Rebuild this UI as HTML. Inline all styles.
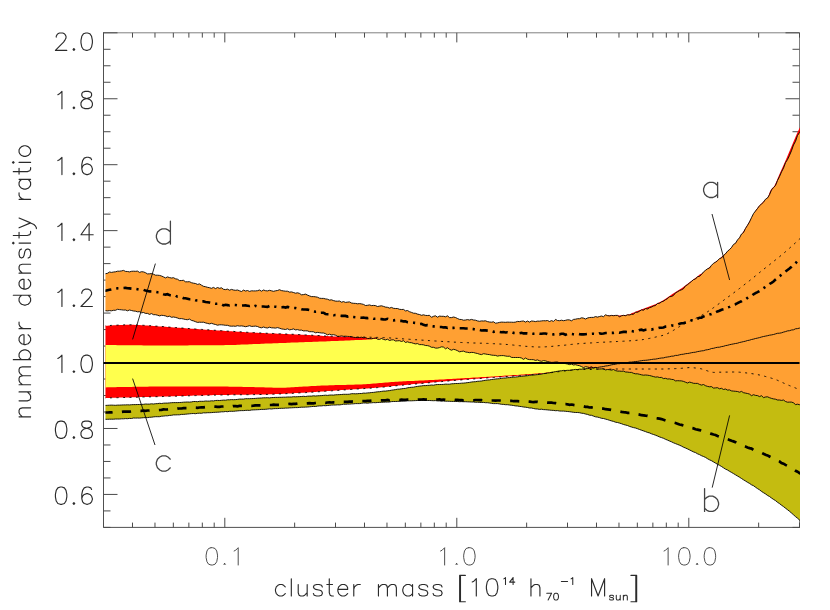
<!DOCTYPE html>
<html><head><meta charset="utf-8"><title>number density ratio vs cluster mass</title>
<style>html,body{margin:0;padding:0;background:#fff;font-family:"Liberation Sans",sans-serif}svg{display:block}.t{font-family:"Liberation Sans",sans-serif;fill:#000;fill-opacity:0}</style></head><body>
<svg width="830" height="610" viewBox="0 0 830 610">
<rect x="0" y="0" width="830" height="610" fill="#ffffff"/>
<defs><clipPath id="cp"><rect x="105.45" y="32.8" width="694.55" height="494.59999999999997"/></clipPath></defs>
<path stroke="#808080" stroke-width="1" fill="none" d="M103.5 32.8 H799.5 V527.4"/>
<path stroke="#505050" stroke-width="1" fill="none" d="M103.5 32.3 V527.4 H800.0"/>
<path stroke="#4a4a4a" stroke-width="1" fill="none" d="M103.50 527.4 V522.60 M103.50 32.8 V37.60 M132.49 527.4 V522.60 M132.49 32.8 V37.60 M154.97 527.4 V522.60 M154.97 32.8 V37.60 M173.34 527.4 V522.60 M173.34 32.8 V37.60 M188.87 527.4 V522.60 M188.87 32.8 V37.60 M202.32 527.4 V522.60 M202.32 32.8 V37.60 M214.19 527.4 V522.60 M214.19 32.8 V37.60 M224.81 527.4 V517.80 M224.81 32.8 V42.40 M294.65 527.4 V522.60 M294.65 32.8 V37.60 M335.50 527.4 V522.60 M335.50 32.8 V37.60 M364.49 527.4 V522.60 M364.49 32.8 V37.60 M386.97 527.4 V522.60 M386.97 32.8 V37.60 M405.34 527.4 V522.60 M405.34 32.8 V37.60 M420.87 527.4 V522.60 M420.87 32.8 V37.60 M434.32 527.4 V522.60 M434.32 32.8 V37.60 M446.19 527.4 V522.60 M446.19 32.8 V37.60 M456.81 527.4 V517.80 M456.81 32.8 V42.40 M526.65 527.4 V522.60 M526.65 32.8 V37.60 M567.50 527.4 V522.60 M567.50 32.8 V37.60 M596.49 527.4 V522.60 M596.49 32.8 V37.60 M618.97 527.4 V522.60 M618.97 32.8 V37.60 M637.34 527.4 V522.60 M637.34 32.8 V37.60 M652.87 527.4 V522.60 M652.87 32.8 V37.60 M666.32 527.4 V522.60 M666.32 32.8 V37.60 M678.19 527.4 V522.60 M678.19 32.8 V37.60 M688.81 527.4 V517.80 M688.81 32.8 V42.40 M758.65 527.4 V522.60 M758.65 32.8 V37.60 M799.50 527.4 V522.60 M799.50 32.8 V37.60 M103.5 527.40 H110.50 M799.5 527.40 H792.50 M103.5 510.91 H110.50 M799.5 510.91 H792.50 M103.5 494.43 H117.50 M799.5 494.43 H785.50 M103.5 477.94 H110.50 M799.5 477.94 H792.50 M103.5 461.45 H110.50 M799.5 461.45 H792.50 M103.5 444.97 H110.50 M799.5 444.97 H792.50 M103.5 428.48 H117.50 M799.5 428.48 H785.50 M103.5 411.99 H110.50 M799.5 411.99 H792.50 M103.5 395.51 H110.50 M799.5 395.51 H792.50 M103.5 379.02 H110.50 M799.5 379.02 H792.50 M103.5 362.53 H117.50 M799.5 362.53 H785.50 M103.5 346.05 H110.50 M799.5 346.05 H792.50 M103.5 329.56 H110.50 M799.5 329.56 H792.50 M103.5 313.07 H110.50 M799.5 313.07 H792.50 M103.5 296.59 H117.50 M799.5 296.59 H785.50 M103.5 280.10 H110.50 M799.5 280.10 H792.50 M103.5 263.61 H110.50 M799.5 263.61 H792.50 M103.5 247.13 H110.50 M799.5 247.13 H792.50 M103.5 230.64 H117.50 M799.5 230.64 H785.50 M103.5 214.15 H110.50 M799.5 214.15 H792.50 M103.5 197.67 H110.50 M799.5 197.67 H792.50 M103.5 181.18 H110.50 M799.5 181.18 H792.50 M103.5 164.69 H117.50 M799.5 164.69 H785.50 M103.5 148.21 H110.50 M799.5 148.21 H792.50 M103.5 131.72 H110.50 M799.5 131.72 H792.50 M103.5 115.23 H110.50 M799.5 115.23 H792.50 M103.5 98.75 H117.50 M799.5 98.75 H785.50 M103.5 82.26 H110.50 M799.5 82.26 H792.50 M103.5 65.77 H110.50 M799.5 65.77 H792.50 M103.5 49.29 H110.50 M799.5 49.29 H792.50 M103.5 32.80 H117.50 M799.5 32.80 H785.50"/>
<g clip-path="url(#cp)">
<polygon fill="#ff0000" points="103.5,326.0 105.5,325.8 107.5,325.7 109.5,325.5 111.5,325.4 113.5,325.3 115.5,325.2 117.5,325.1 119.5,325.0 121.5,324.9 123.5,324.9 125.5,324.8 127.5,324.8 129.5,324.8 131.5,324.8 133.5,324.8 135.5,324.9 137.5,325.0 139.5,325.1 141.5,325.2 143.5,325.3 145.5,325.4 147.5,325.5 149.5,325.7 151.5,325.8 153.5,326.0 155.5,326.1 157.5,326.2 159.5,326.4 161.5,326.5 163.5,326.6 165.5,326.8 167.5,326.9 169.5,327.1 171.5,327.2 173.5,327.4 175.5,327.5 177.5,327.7 179.5,327.8 181.5,328.0 183.5,328.1 185.5,328.3 187.5,328.4 189.5,328.6 191.5,328.7 193.5,328.8 195.5,329.0 197.5,329.1 199.5,329.3 201.5,329.4 203.5,329.5 205.5,329.7 207.5,329.8 209.5,329.9 211.5,330.1 213.5,330.2 215.5,330.3 217.5,330.4 219.5,330.6 221.5,330.7 223.5,330.8 225.5,330.9 227.5,331.1 229.5,331.2 231.5,331.3 233.5,331.4 235.5,331.6 237.5,331.7 239.5,331.8 241.5,331.9 243.5,332.0 245.5,332.2 247.5,332.3 249.5,332.4 251.5,332.5 253.5,332.6 255.5,332.7 257.5,332.8 259.5,332.9 261.5,333.0 263.5,333.1 265.5,333.2 267.5,333.3 269.5,333.4 271.5,333.4 273.5,333.5 275.5,333.6 277.5,333.7 279.5,333.8 281.5,333.8 283.5,333.9 285.5,334.0 287.5,334.1 289.5,334.2 291.5,334.2 293.5,334.3 295.5,334.4 297.5,334.5 299.5,334.6 301.5,334.7 303.5,334.8 305.5,334.9 307.5,335.0 309.5,335.1 311.5,335.2 313.5,335.3 315.5,335.4 317.5,335.5 319.5,335.6 321.5,335.8 323.5,335.9 325.5,336.0 327.5,336.1 329.5,336.2 331.5,336.3 333.5,336.4 335.5,336.4 337.5,336.5 339.5,336.6 341.5,336.6 343.5,336.7 345.5,336.8 347.5,336.8 349.5,336.8 351.5,336.9 353.5,336.9 355.5,337.0 357.5,337.0 359.5,337.0 361.5,337.1 363.5,337.1 365.5,337.1 367.5,337.2 369.5,337.2 371.5,337.3 373.5,337.3 375.5,337.4 377.5,337.4 379.5,337.5 381.5,337.6 383.5,337.6 385.5,337.7 387.5,337.8 389.5,337.9 391.5,338.1 393.5,338.2 395.5,338.3 397.5,338.4 399.5,338.6 401.5,338.7 403.5,338.9 405.5,339.0 407.5,339.1 409.5,339.3 411.5,339.4 413.5,339.6 415.5,339.7 417.5,339.8 419.5,340.0 421.5,340.1 423.5,340.2 425.5,340.3 427.5,340.5 429.5,340.6 431.5,340.7 433.5,340.9 435.5,341.0 437.5,341.1 439.5,341.2 441.5,341.4 443.5,341.5 445.5,341.6 447.5,341.7 449.5,341.8 451.5,342.0 453.5,342.1 455.5,342.2 457.5,342.3 459.5,342.4 461.5,342.5 463.5,342.6 465.5,342.6 467.5,342.7 469.5,342.8 471.5,342.9 473.5,343.0 475.5,343.0 477.5,343.1 479.5,343.2 481.5,343.2 483.5,343.3 485.5,343.4 487.5,343.4 489.5,343.5 491.5,343.6 493.5,343.7 495.5,343.8 497.5,343.9 499.5,344.0 501.5,344.1 503.5,344.2 505.5,344.4 507.5,344.5 509.5,344.7 511.5,344.9 513.5,345.1 515.5,345.3 517.5,345.5 519.5,345.7 521.5,345.9 523.5,346.1 525.5,346.3 527.5,346.4 529.5,346.6 531.5,346.7 533.5,346.8 535.5,346.9 537.5,347.0 539.5,347.0 541.5,347.0 543.5,346.9 545.5,346.8 547.5,346.7 549.5,346.5 551.5,346.4 553.5,346.2 555.5,346.0 557.5,345.8 559.5,345.6 561.5,345.5 563.5,345.3 565.5,345.1 567.5,344.9 569.5,344.6 571.5,344.4 573.5,344.2 575.5,344.0 577.5,343.8 579.5,343.6 581.5,343.5 583.5,343.4 585.5,343.2 587.5,343.1 589.5,343.0 591.5,342.9 593.5,342.8 595.5,342.6 597.5,342.5 599.5,342.4 604.0,315.7 606.0,315.7 608.0,315.6 610.0,315.6 612.0,315.6 614.0,315.6 616.0,315.5 618.0,315.5 620.0,315.4 622.0,315.3 624.0,315.1 626.0,314.9 628.0,314.6 630.0,314.3 632.0,313.0 634.0,312.4 636.0,311.6 638.0,310.8 640.0,310.0 642.0,309.3 644.0,308.5 646.0,307.8 648.0,307.1 650.0,306.3 652.0,305.5 654.0,304.7 656.0,303.9 658.0,303.0 660.0,302.0 662.0,300.9 664.0,299.7 666.0,298.4 668.0,297.1 670.0,295.7 672.0,294.3 674.0,293.0 676.0,291.7 678.0,290.4 680.0,289.2 682.0,287.9 684.0,286.5 686.0,285.1 688.0,283.6 690.0,282.1 692.0,280.5 694.0,279.0 696.0,277.4 698.0,275.9 700.0,274.3 702.0,273.4 704.0,271.8 706.0,270.1 708.0,268.4 710.0,266.7 712.0,265.0 714.0,263.3 716.0,261.6 718.0,260.0 720.0,258.3 722.0,256.6 724.0,254.8 726.0,252.9 728.0,250.9 730.0,248.9 732.0,246.8 734.0,244.7 736.0,242.4 738.0,239.8 740.0,236.8 742.0,233.7 744.0,230.5 746.0,227.3 748.0,223.9 750.0,220.5 752.0,217.1 754.0,213.5 756.0,210.1 758.0,207.2 760.0,204.9 762.0,203.0 764.0,201.1 766.0,199.2 768.0,197.0 770.0,191.4 772.0,188.2 774.0,186.4 776.0,182.5 778.0,177.4 780.0,173.0 782.0,168.6 784.0,164.1 786.0,159.5 788.0,154.7 790.0,149.9 792.0,145.2 794.0,140.5 796.0,135.8 798.0,131.2 800.8,125.5 800.8,400.0 600.0,372.0 543.5,373.6 541.5,373.8 539.5,374.0 537.5,374.2 535.5,374.4 533.5,374.6 531.5,374.8 529.5,374.9 527.5,375.1 525.5,375.2 523.5,375.4 521.5,375.5 519.5,375.6 517.5,375.8 515.5,375.9 513.5,376.1 511.5,376.2 509.5,376.3 507.5,376.5 505.5,376.6 503.5,376.7 501.5,376.9 499.5,377.0 497.5,377.2 495.5,377.3 493.5,377.5 491.5,377.6 489.5,377.8 487.5,377.9 485.5,378.1 483.5,378.2 481.5,378.4 479.5,378.5 477.5,378.7 475.5,378.8 473.5,379.0 471.5,379.1 469.5,379.3 467.5,379.4 465.5,379.6 463.5,379.7 461.5,379.9 459.5,380.0 457.5,380.2 455.5,380.4 453.5,380.5 451.5,380.7 449.5,380.9 447.5,381.1 445.5,381.2 443.5,381.4 441.5,381.6 439.5,381.8 437.5,382.0 435.5,382.1 433.5,382.3 431.5,382.5 429.5,382.7 427.5,382.9 425.5,383.0 423.5,383.2 421.5,383.4 419.5,383.6 417.5,383.8 415.5,384.0 413.5,384.1 411.5,384.3 409.5,384.5 407.5,384.7 405.5,384.9 403.5,385.1 401.5,385.3 399.5,385.4 397.5,385.6 395.5,385.9 393.5,386.1 391.5,386.3 389.5,386.5 387.5,386.7 385.5,386.9 383.5,387.1 381.5,387.3 379.5,387.4 377.5,387.6 375.5,387.8 373.5,387.9 371.5,388.1 369.5,388.2 367.5,388.4 365.5,388.5 363.5,388.6 361.5,388.8 359.5,388.9 357.5,389.0 355.5,389.2 353.5,389.3 351.5,389.4 349.5,389.6 347.5,389.7 345.5,389.8 343.5,390.0 341.5,390.1 339.5,390.2 337.5,390.4 335.5,390.5 333.5,390.7 331.5,390.8 329.5,390.9 327.5,391.1 325.5,391.2 323.5,391.4 321.5,391.5 319.5,391.7 317.5,391.8 315.5,391.9 313.5,392.1 311.5,392.2 309.5,392.3 307.5,392.5 305.5,392.6 303.5,392.7 301.5,392.8 299.5,392.9 297.5,393.0 295.5,393.1 293.5,393.2 291.5,393.4 289.5,393.5 287.5,393.6 285.5,393.7 283.5,393.8 281.5,393.9 279.5,393.9 277.5,394.0 275.5,394.1 273.5,394.2 271.5,394.3 269.5,394.3 267.5,394.4 265.5,394.4 263.5,394.4 261.5,394.5 259.5,394.5 257.5,394.5 255.5,394.6 253.5,394.6 251.5,394.6 249.5,394.7 247.5,394.7 245.5,394.7 243.5,394.7 241.5,394.7 239.5,394.8 237.5,394.8 235.5,394.8 233.5,394.8 231.5,394.8 229.5,394.9 227.5,394.9 225.5,394.9 223.5,394.9 221.5,395.0 219.5,395.0 217.5,395.0 215.5,395.1 213.5,395.1 211.5,395.2 209.5,395.2 207.5,395.3 205.5,395.3 203.5,395.4 201.5,395.4 199.5,395.5 197.5,395.5 195.5,395.6 193.5,395.6 191.5,395.7 189.5,395.8 187.5,395.8 185.5,395.9 183.5,395.9 181.5,396.0 179.5,396.0 177.5,396.1 175.5,396.2 173.5,396.2 171.5,396.3 169.5,396.3 167.5,396.4 165.5,396.5 163.5,396.5 161.5,396.6 159.5,396.6 157.5,396.7 155.5,396.7 153.5,396.8 151.5,396.8 149.5,396.9 147.5,396.9 145.5,397.0 143.5,397.0 141.5,397.1 139.5,397.1 137.5,397.2 135.5,397.2 133.5,397.3 131.5,397.3 129.5,397.4 127.5,397.4 125.5,397.5 123.5,397.5 121.5,397.6 119.5,397.6 117.5,397.7 115.5,397.7 113.5,397.8 111.5,397.8 109.5,397.9 107.5,397.9 105.5,398.0 103.5,398.0"/>
<polygon fill="#ffff4d" points="103.5,345.0 105.5,345.0 107.5,345.0 109.5,345.1 111.5,345.1 113.5,345.1 115.5,345.1 117.5,345.2 119.5,345.2 121.5,345.2 123.5,345.2 125.5,345.2 127.5,345.3 129.5,345.3 131.5,345.3 133.5,345.3 135.5,345.3 137.5,345.3 139.5,345.3 141.5,345.3 143.5,345.4 145.5,345.4 147.5,345.4 149.5,345.4 151.5,345.4 153.5,345.4 155.5,345.4 157.5,345.4 159.5,345.4 161.5,345.4 163.5,345.4 165.5,345.4 167.5,345.4 169.5,345.4 171.5,345.4 173.5,345.4 175.5,345.4 177.5,345.4 179.5,345.4 181.5,345.4 183.5,345.4 185.5,345.4 187.5,345.4 189.5,345.3 191.5,345.3 193.5,345.3 195.5,345.3 197.5,345.3 199.5,345.3 201.5,345.3 203.5,345.3 205.5,345.3 207.5,345.3 209.5,345.3 211.5,345.3 213.5,345.2 215.5,345.2 217.5,345.2 219.5,345.2 221.5,345.2 223.5,345.2 225.5,345.1 227.5,345.1 229.5,345.0 231.5,345.0 233.5,344.9 235.5,344.9 237.5,344.8 239.5,344.7 241.5,344.6 243.5,344.6 245.5,344.5 247.5,344.4 249.5,344.3 251.5,344.2 253.5,344.1 255.5,344.0 257.5,343.9 259.5,343.9 261.5,343.8 263.5,343.7 265.5,343.6 267.5,343.5 269.5,343.5 271.5,343.4 273.5,343.3 275.5,343.2 277.5,343.2 279.5,343.1 281.5,343.0 283.5,342.9 285.5,342.9 287.5,342.8 289.5,342.7 291.5,342.6 293.5,342.5 295.5,342.5 297.5,342.4 299.5,342.3 301.5,342.2 303.5,342.2 305.5,342.1 307.5,342.0 309.5,341.9 311.5,341.9 313.5,341.8 315.5,341.7 317.5,341.7 319.5,341.6 321.5,341.5 323.5,341.4 325.5,341.4 327.5,341.3 329.5,341.2 331.5,341.1 333.5,341.1 335.5,341.0 337.5,340.9 339.5,340.8 341.5,340.7 343.5,340.7 345.5,340.6 347.5,340.5 349.5,340.4 351.5,340.3 353.5,340.2 355.5,340.1 357.5,340.1 359.5,340.0 361.5,339.9 363.5,339.8 365.5,339.7 367.5,339.5 369.5,339.4 371.5,339.3 373.5,339.1 375.5,338.9 377.5,338.7 379.5,338.5 381.5,338.4 383.5,338.3 385.5,338.2 387.5,338.1 389.5,338.1 391.5,338.1 393.5,338.0 395.5,338.0 397.5,338.0 399.5,338.0 401.5,338.0 403.5,338.2 405.5,338.4 407.5,338.7 409.5,339.0 411.5,339.4 413.5,339.8 415.5,340.2 417.5,340.6 419.5,340.9 421.5,341.2 423.5,341.6 425.5,341.9 427.5,342.3 429.5,342.6 431.5,343.0 433.5,343.4 435.5,343.7 437.5,344.1 439.5,344.5 441.5,344.9 443.5,345.2 445.5,345.6 447.5,345.9 449.5,346.3 451.5,346.6 453.5,347.0 455.5,347.3 457.5,347.6 459.5,347.9 461.5,348.2 463.5,348.5 465.5,348.8 467.5,349.0 469.5,349.3 471.5,349.6 473.5,349.8 475.5,350.1 477.5,350.3 479.5,350.5 481.5,350.8 483.5,351.0 485.5,351.3 487.5,351.5 489.5,351.7 491.5,352.0 493.5,352.2 495.5,352.4 497.5,352.7 499.5,352.9 501.5,353.2 503.5,353.4 505.5,353.7 507.5,353.9 509.5,354.2 511.5,354.5 513.5,354.7 515.5,355.0 517.5,355.2 519.5,355.5 521.5,355.7 523.5,356.0 525.5,356.2 527.5,356.5 529.5,356.7 531.5,357.0 533.5,357.2 535.5,357.5 537.5,357.7 539.5,357.9 541.5,358.2 543.5,358.4 545.5,358.6 547.5,358.8 549.5,359.0 551.5,359.1 553.5,359.3 555.5,359.5 557.5,359.7 559.5,359.9 561.5,360.1 563.5,360.3 565.5,360.5 567.5,360.8 569.5,361.1 571.5,361.4 573.5,361.7 575.5,362.1 577.5,362.6 579.5,363.3 581.5,364.2 583.5,365.1 585.5,366.1 587.5,367.2 589.5,368.2 590.0,368.5 588.0,368.5 587.5,368.6 585.5,368.8 583.5,369.0 581.5,369.2 579.5,369.4 577.5,369.7 575.5,369.9 573.5,370.1 571.5,370.3 569.5,370.5 567.5,370.7 565.5,370.9 563.5,371.1 561.5,371.3 559.5,371.5 557.5,371.7 555.5,371.9 553.5,372.0 551.5,372.2 549.5,372.4 547.5,372.6 545.5,372.7 543.5,372.9 541.5,373.1 539.5,373.2 537.5,373.4 535.5,373.6 533.5,373.7 531.5,373.9 529.5,374.0 527.5,374.2 525.5,374.3 523.5,374.4 521.5,374.6 519.5,374.7 517.5,374.9 515.5,375.0 513.5,375.1 511.5,375.3 509.5,375.4 507.5,375.5 505.5,375.6 503.5,375.8 501.5,375.9 499.5,376.0 497.5,376.2 495.5,376.3 493.5,376.4 491.5,376.5 489.5,376.7 487.5,376.8 485.5,376.9 483.5,377.0 481.5,377.1 479.5,377.3 477.5,377.4 475.5,377.5 473.5,377.6 471.5,377.7 469.5,377.9 467.5,378.0 465.5,378.1 463.5,378.2 461.5,378.3 459.5,378.4 457.5,378.5 455.5,378.7 453.5,378.8 451.5,378.9 449.5,379.0 447.5,379.1 445.5,379.2 443.5,379.4 441.5,379.5 439.5,379.6 437.5,379.7 435.5,379.8 433.5,379.9 431.5,380.0 429.5,380.1 427.5,380.2 425.5,380.3 423.5,380.4 421.5,380.5 419.5,380.6 417.5,380.7 415.5,380.8 413.5,380.9 411.5,380.9 409.5,381.0 407.5,381.1 405.5,381.2 403.5,381.3 401.5,381.4 399.5,381.5 397.5,381.7 395.5,381.8 393.5,381.9 391.5,382.1 389.5,382.2 387.5,382.4 385.5,382.6 383.5,382.7 381.5,382.9 379.5,383.0 377.5,383.2 375.5,383.4 373.5,383.5 371.5,383.7 369.5,383.9 367.5,384.0 365.5,384.2 363.5,384.3 361.5,384.4 359.5,384.5 357.5,384.6 355.5,384.6 353.5,384.7 351.5,384.7 349.5,384.8 347.5,384.8 345.5,384.9 343.5,384.9 341.5,385.0 339.5,385.0 337.5,385.1 335.5,385.1 333.5,385.2 331.5,385.3 329.5,385.3 327.5,385.4 325.5,385.5 323.5,385.6 321.5,385.6 319.5,385.7 317.5,385.8 315.5,385.9 313.5,386.0 311.5,386.1 309.5,386.3 307.5,386.4 305.5,386.5 303.5,386.6 301.5,386.7 299.5,386.8 297.5,386.9 295.5,387.1 293.5,387.2 291.5,387.3 289.5,387.5 287.5,387.6 285.5,387.7 283.5,387.7 281.5,387.8 279.5,387.8 277.5,387.8 275.5,387.7 273.5,387.7 271.5,387.6 269.5,387.5 267.5,387.4 265.5,387.4 263.5,387.3 261.5,387.3 259.5,387.2 257.5,387.2 255.5,387.2 253.5,387.1 251.5,387.1 249.5,387.0 247.5,387.0 245.5,386.9 243.5,386.9 241.5,386.8 239.5,386.8 237.5,386.8 235.5,386.7 233.5,386.7 231.5,386.7 229.5,386.7 227.5,386.6 225.5,386.6 223.5,386.6 221.5,386.6 219.5,386.6 217.5,386.6 215.5,386.6 213.5,386.6 211.5,386.6 209.5,386.6 207.5,386.6 205.5,386.6 203.5,386.6 201.5,386.6 199.5,386.6 197.5,386.6 195.5,386.6 193.5,386.6 191.5,386.6 189.5,386.6 187.5,386.6 185.5,386.6 183.5,386.6 181.5,386.6 179.5,386.6 177.5,386.6 175.5,386.6 173.5,386.6 171.5,386.6 169.5,386.6 167.5,386.6 165.5,386.6 163.5,386.6 161.5,386.6 159.5,386.6 157.5,386.6 155.5,386.6 153.5,386.6 151.5,386.6 149.5,386.6 147.5,386.7 145.5,386.7 143.5,386.7 141.5,386.7 139.5,386.7 137.5,386.8 135.5,386.8 133.5,386.8 131.5,386.9 129.5,386.9 127.5,386.9 125.5,387.0 123.5,387.0 121.5,387.0 119.5,387.1 117.5,387.1 115.5,387.2 113.5,387.2 111.5,387.2 109.5,387.3 107.5,387.3 105.5,387.4 103.5,387.4"/>
<polygon fill="#c4bc10" points="103.5,405.3 105.5,405.4 107.5,405.3 109.5,405.2 111.5,405.1 113.5,405.2 115.5,405.3 117.5,405.1 119.5,405.1 121.5,405.0 123.5,404.9 125.5,404.9 127.5,404.8 129.5,404.9 131.5,404.7 133.5,404.6 135.5,404.6 137.5,404.5 139.5,404.5 141.5,404.4 143.5,404.3 145.5,404.0 147.5,404.1 149.5,404.1 151.5,403.8 153.5,404.0 155.5,403.7 157.5,403.6 159.5,403.3 161.5,403.5 163.5,403.2 165.5,403.1 167.5,403.1 169.5,402.9 171.5,402.7 173.5,402.6 175.5,402.6 177.5,402.6 179.5,402.5 181.5,402.4 183.5,402.2 185.5,402.1 187.5,402.0 189.5,402.1 191.5,401.9 193.5,401.5 195.5,401.5 197.5,401.7 199.5,401.3 201.5,401.3 203.5,401.3 205.5,401.0 207.5,401.1 209.5,401.1 211.5,400.8 213.5,400.9 215.5,400.5 217.5,400.4 219.5,400.5 221.5,400.3 223.5,400.1 225.5,400.2 227.5,399.8 229.5,399.8 231.5,399.6 233.5,399.7 235.5,399.6 237.5,399.4 239.5,399.1 241.5,399.1 243.5,399.1 245.5,398.7 247.5,398.7 249.5,398.7 251.5,398.6 253.5,398.5 255.5,398.4 257.5,398.2 259.5,398.1 261.5,398.0 263.5,397.8 265.5,397.8 267.5,397.7 269.5,397.9 271.5,397.6 273.5,397.5 275.5,397.4 277.5,397.4 279.5,397.3 281.5,397.3 283.5,397.2 285.5,397.2 287.5,397.0 289.5,397.0 291.5,397.0 293.5,396.7 295.5,396.8 297.5,396.7 299.5,396.6 301.5,396.5 303.5,396.3 305.5,396.5 307.5,396.2 309.5,396.1 311.5,396.1 313.5,395.8 315.5,396.0 317.5,395.8 319.5,395.7 321.5,395.6 323.5,395.4 325.5,395.2 327.5,395.4 329.5,395.1 331.5,395.0 333.5,395.1 335.5,394.8 337.5,394.7 339.5,394.6 341.5,394.5 343.5,394.3 345.5,394.3 347.5,394.3 349.5,394.2 351.5,393.7 353.5,393.7 355.5,393.8 357.5,393.7 359.5,393.5 361.5,393.5 363.5,393.1 365.5,393.2 367.5,392.9 369.5,392.8 371.5,392.5 373.5,392.4 375.5,392.1 377.5,391.8 379.5,391.7 381.5,391.4 383.5,391.1 385.5,391.1 387.5,390.8 389.5,390.6 391.5,390.2 393.5,389.9 395.5,389.6 397.5,389.2 399.5,389.1 401.5,388.8 403.5,388.5 405.5,388.4 407.5,387.8 409.5,387.5 411.5,387.3 413.5,387.2 415.5,386.7 417.5,386.4 419.5,386.1 421.5,385.9 423.5,385.6 425.5,385.6 427.5,385.4 429.5,385.3 431.5,385.0 433.5,385.2 435.5,384.7 437.5,384.5 439.5,384.5 441.5,384.5 443.5,384.4 445.5,384.1 447.5,384.2 449.5,384.2 451.5,383.8 453.5,383.7 455.5,383.5 457.5,383.5 459.5,383.4 461.5,383.2 463.5,383.1 465.5,382.9 467.5,382.6 469.5,382.4 471.5,382.0 473.5,381.8 475.5,381.7 477.5,381.3 479.5,381.2 481.5,381.0 483.5,380.6 485.5,380.3 487.5,380.0 489.5,379.9 491.5,379.5 493.5,379.3 495.5,379.0 497.5,378.8 499.5,378.7 501.5,378.3 503.5,378.0 505.5,378.0 507.5,377.7 509.5,377.6 511.5,377.3 513.5,377.2 515.5,377.0 517.5,376.8 519.5,376.5 521.5,376.3 523.5,376.1 525.5,375.9 527.5,375.7 529.5,375.4 531.5,375.0 533.5,375.0 535.5,374.8 537.5,374.6 539.5,374.4 541.5,374.1 543.5,373.6 545.5,373.5 547.5,373.0 549.5,372.8 551.5,372.3 553.5,372.0 555.5,371.6 557.5,371.3 559.5,370.9 561.5,370.8 563.5,370.4 565.5,370.5 567.5,370.3 569.5,370.3 571.5,370.0 573.5,369.7 575.5,369.4 577.5,369.6 579.5,369.1 581.5,369.2 583.5,368.7 585.5,368.7 587.5,368.6 589.5,368.4 591.5,368.1 593.5,367.8 595.5,367.5 597.5,367.5 599.5,367.1 601.5,366.8 603.5,366.5 605.5,366.0 607.5,365.8 609.5,365.4 611.5,364.8 613.5,364.5 615.5,364.2 617.5,363.7 619.5,363.7 621.5,363.3 623.5,362.9 625.5,362.8 627.5,362.6 629.5,362.1 631.5,362.1 633.5,361.8 635.5,361.5 637.5,361.4 639.5,361.0 641.5,360.7 643.5,360.4 645.5,360.3 647.5,360.1 649.5,359.8 651.5,359.5 653.5,359.2 655.5,359.1 657.5,358.7 659.5,358.3 661.5,358.0 663.5,357.9 665.5,357.3 667.5,357.0 669.5,356.7 671.5,356.2 673.5,356.1 675.5,355.4 677.5,355.4 679.5,354.8 681.5,354.4 683.5,354.2 685.5,353.7 687.5,353.5 689.5,353.2 691.5,352.7 693.5,352.4 695.5,352.2 697.5,351.6 699.5,351.3 701.5,350.9 703.5,350.7 705.5,350.0 707.5,349.7 709.5,349.3 711.5,348.5 713.5,348.3 715.5,347.7 717.5,347.3 719.5,347.2 721.5,346.6 723.5,346.3 725.5,345.6 727.5,345.3 729.5,344.7 731.5,344.3 733.5,343.9 735.5,343.5 737.5,343.2 739.5,342.5 741.5,342.1 743.5,341.6 745.5,341.2 747.5,340.5 749.5,340.2 751.5,339.5 753.5,339.1 755.5,338.5 757.5,338.1 759.5,337.6 761.5,337.0 763.5,336.5 765.5,336.1 767.5,335.7 769.5,335.2 771.5,334.9 773.5,334.5 775.5,333.9 777.5,333.3 779.5,333.2 781.5,332.8 783.5,332.1 785.5,331.6 787.5,330.9 789.5,330.7 791.5,330.0 793.5,329.8 795.5,328.8 797.5,328.6 799.5,328.1 800.8,327.8 800.8,521.2 799.5,520.0 797.5,518.2 795.5,516.6 793.5,514.8 791.5,513.0 789.5,511.3 787.5,509.7 785.5,508.2 783.5,506.6 781.5,505.2 779.5,503.6 777.5,502.3 775.5,500.6 773.5,499.4 771.5,498.0 769.5,496.5 767.5,495.4 765.5,493.9 763.5,492.7 761.5,491.4 759.5,489.8 757.5,488.6 755.5,487.2 753.5,485.7 751.5,484.8 749.5,483.4 747.5,482.3 745.5,481.0 743.5,479.8 741.5,478.5 739.5,477.2 737.5,476.0 735.5,474.8 733.5,473.6 731.5,472.4 729.5,471.3 727.5,470.0 725.5,469.1 723.5,467.8 721.5,466.5 719.5,465.3 717.5,464.3 715.5,463.1 713.5,461.9 711.5,460.7 709.5,459.8 707.5,458.7 705.5,457.4 703.5,456.5 701.5,455.7 699.5,454.6 697.5,453.8 695.5,452.6 693.5,451.9 691.5,450.9 689.5,449.9 687.5,448.9 685.5,448.0 683.5,447.2 681.5,446.1 679.5,445.2 677.5,444.4 675.5,443.6 673.5,442.8 671.5,441.8 669.5,441.0 667.5,440.1 665.5,439.3 663.5,438.3 661.5,437.6 659.5,436.9 657.5,436.0 655.5,435.2 653.5,434.5 651.5,433.8 649.5,432.9 647.5,432.4 645.5,431.6 643.5,430.9 641.5,430.2 639.5,429.5 637.5,428.7 635.5,428.0 633.5,427.6 631.5,427.0 629.5,426.4 627.5,425.5 625.5,425.0 623.5,424.5 621.5,423.7 619.5,423.1 617.5,422.5 615.5,422.2 613.5,421.4 611.5,420.9 609.5,420.3 607.5,419.6 605.5,419.1 603.5,418.5 601.5,418.3 599.5,417.6 597.5,417.1 595.5,416.8 593.5,416.1 591.5,415.3 589.5,415.2 587.5,414.4 585.5,414.0 583.5,413.4 581.5,413.2 579.5,412.7 577.5,412.5 575.5,412.5 573.5,412.3 571.5,412.0 569.5,411.7 567.5,411.5 565.5,411.3 563.5,411.1 561.5,411.1 559.5,411.0 557.5,410.6 555.5,410.7 553.5,410.4 551.5,410.3 549.5,410.1 547.5,409.9 545.5,409.7 543.5,409.6 541.5,409.2 539.5,409.4 537.5,409.0 535.5,408.9 533.5,408.5 531.5,408.0 529.5,408.0 527.5,407.5 525.5,407.2 523.5,407.0 521.5,406.6 519.5,406.4 517.5,406.0 515.5,405.9 513.5,405.5 511.5,405.2 509.5,405.0 507.5,404.7 505.5,404.7 503.5,404.4 501.5,404.3 499.5,403.9 497.5,403.6 495.5,403.6 493.5,403.6 491.5,403.3 489.5,403.0 487.5,402.7 485.5,402.7 483.5,402.4 481.5,402.5 479.5,402.4 477.5,402.2 475.5,402.3 473.5,402.0 471.5,402.0 469.5,401.9 467.5,401.8 465.5,401.7 463.5,401.7 461.5,401.6 459.5,401.7 457.5,401.5 455.5,401.5 453.5,401.4 451.5,401.4 449.5,401.3 447.5,401.2 445.5,401.2 443.5,401.0 441.5,401.1 439.5,400.9 437.5,400.9 435.5,400.6 433.5,400.7 431.5,400.6 429.5,400.5 427.5,400.5 425.5,400.4 423.5,400.5 421.5,400.4 419.5,400.4 417.5,400.5 415.5,400.6 413.5,400.7 411.5,400.8 409.5,400.8 407.5,400.8 405.5,400.9 403.5,401.0 401.5,401.1 399.5,401.2 397.5,401.4 395.5,401.5 393.5,401.5 391.5,401.6 389.5,402.0 387.5,402.1 385.5,402.1 383.5,402.2 381.5,402.3 379.5,402.4 377.5,402.5 375.5,402.7 373.5,402.6 371.5,402.8 369.5,402.9 367.5,403.2 365.5,403.0 363.5,403.0 361.5,403.3 359.5,403.6 357.5,403.6 355.5,403.6 353.5,403.8 351.5,403.9 349.5,404.1 347.5,404.1 345.5,404.3 343.5,404.2 341.5,404.6 339.5,404.9 337.5,404.8 335.5,405.0 333.5,405.0 331.5,405.1 329.5,405.3 327.5,405.5 325.5,405.7 323.5,405.6 321.5,405.9 319.5,405.9 317.5,406.1 315.5,406.5 313.5,406.4 311.5,406.6 309.5,406.8 307.5,407.0 305.5,407.1 303.5,407.2 301.5,407.2 299.5,407.4 297.5,407.6 295.5,407.6 293.5,407.7 291.5,407.8 289.5,407.9 287.5,408.1 285.5,408.1 283.5,408.3 281.5,408.3 279.5,408.4 277.5,408.6 275.5,408.6 273.5,408.7 271.5,409.0 269.5,408.8 267.5,409.1 265.5,409.3 263.5,409.4 261.5,409.4 259.5,409.6 257.5,409.7 255.5,409.8 253.5,409.9 251.5,410.0 249.5,410.4 247.5,410.3 245.5,410.4 243.5,410.6 241.5,410.6 239.5,410.7 237.5,410.9 235.5,411.1 233.5,411.3 231.5,411.3 229.5,411.3 227.5,411.7 225.5,411.5 223.5,411.8 221.5,411.8 219.5,412.1 217.5,412.2 215.5,412.3 213.5,412.4 211.5,412.6 209.5,412.7 207.5,412.7 205.5,412.9 203.5,412.8 201.5,413.3 199.5,413.2 197.5,413.3 195.5,413.7 193.5,413.5 191.5,413.6 189.5,413.8 187.5,414.0 185.5,414.2 183.5,414.4 181.5,414.4 179.5,414.8 177.5,414.8 175.5,414.9 173.5,414.9 171.5,415.3 169.5,415.4 167.5,415.8 165.5,415.8 163.5,416.1 161.5,416.2 159.5,416.7 157.5,416.7 155.5,416.7 153.5,416.9 151.5,417.2 149.5,417.3 147.5,417.6 145.5,417.6 143.5,417.7 141.5,417.9 139.5,418.1 137.5,418.0 135.5,418.1 133.5,418.0 131.5,418.5 129.5,418.4 127.5,418.7 125.5,418.6 123.5,418.8 121.5,418.8 119.5,419.0 117.5,419.0 115.5,419.0 113.5,419.2 111.5,419.2 109.5,419.2 107.5,419.3 105.5,419.3 103.5,419.4"/>
<polygon fill="#ffa033" points="103.5,274.6 105.5,273.7 107.5,273.3 109.5,272.0 111.5,272.4 113.5,272.0 115.5,271.8 117.5,271.2 119.5,271.2 121.5,270.9 123.5,270.4 125.5,271.4 127.5,271.5 129.5,271.9 131.5,271.3 133.5,271.2 135.5,271.3 137.5,271.1 139.5,272.4 141.5,271.7 143.5,271.9 145.5,272.7 147.5,273.9 149.5,273.8 151.5,273.6 153.5,274.2 155.5,275.2 157.5,275.2 159.5,275.4 161.5,276.0 163.5,276.9 165.5,277.9 167.5,276.9 169.5,277.6 171.5,278.0 173.5,277.7 175.5,278.8 177.5,279.2 179.5,280.6 181.5,280.5 183.5,280.3 185.5,281.8 187.5,281.8 189.5,281.7 191.5,282.7 193.5,283.2 195.5,283.5 197.5,284.4 199.5,283.9 201.5,285.2 203.5,286.3 205.5,286.7 207.5,287.3 209.5,287.7 211.5,288.3 213.5,287.4 215.5,288.6 217.5,287.5 219.5,288.3 221.5,287.8 223.5,289.3 225.5,289.6 227.5,289.1 229.5,290.2 231.5,289.4 233.5,290.0 235.5,290.3 237.5,290.0 239.5,290.8 241.5,291.5 243.5,290.1 245.5,291.0 247.5,290.5 249.5,291.4 251.5,290.8 253.5,290.9 255.5,290.9 257.5,290.7 259.5,290.0 261.5,291.2 263.5,290.0 265.5,290.7 267.5,290.9 269.5,290.3 271.5,290.8 273.5,291.3 275.5,290.8 277.5,290.5 279.5,289.7 281.5,290.6 283.5,290.9 285.5,291.2 287.5,291.2 289.5,292.1 291.5,291.9 293.5,292.5 295.5,293.2 297.5,292.8 299.5,293.4 301.5,294.8 303.5,294.6 305.5,294.1 307.5,295.1 309.5,295.9 311.5,296.6 313.5,296.6 315.5,296.8 317.5,297.2 319.5,298.2 321.5,298.4 323.5,298.4 325.5,298.9 327.5,299.2 329.5,300.1 331.5,299.8 333.5,300.6 335.5,301.1 337.5,301.2 339.5,301.0 341.5,302.2 343.5,301.6 345.5,302.4 347.5,302.1 349.5,301.9 351.5,303.0 353.5,303.3 355.5,303.4 357.5,303.8 359.5,303.6 361.5,303.9 363.5,304.4 365.5,305.5 367.5,305.3 369.5,304.9 371.5,305.6 373.5,305.4 375.5,305.6 377.5,306.5 379.5,306.1 381.5,305.8 383.5,306.4 385.5,307.1 387.5,307.3 389.5,308.1 391.5,307.4 393.5,308.3 395.5,308.5 397.5,308.5 399.5,309.3 401.5,309.5 403.5,309.4 405.5,310.9 407.5,310.5 409.5,311.7 411.5,312.4 413.5,313.2 415.5,313.3 417.5,314.1 419.5,314.5 421.5,315.3 423.5,314.8 425.5,315.4 427.5,315.5 429.5,315.3 431.5,317.3 433.5,316.3 435.5,315.8 437.5,317.2 439.5,316.1 441.5,316.3 443.5,316.3 445.5,316.8 447.5,315.8 449.5,317.6 451.5,317.6 453.5,317.0 455.5,317.5 457.5,318.5 459.5,319.4 461.5,319.5 463.5,320.2 465.5,320.0 467.5,319.6 469.5,320.0 471.5,319.4 473.5,320.0 475.5,320.2 477.5,320.9 479.5,321.3 481.5,320.9 483.5,321.0 485.5,320.8 487.5,321.6 489.5,322.0 491.5,322.2 493.5,321.8 495.5,323.2 497.5,322.9 499.5,322.4 501.5,322.1 503.5,322.2 505.5,322.3 507.5,322.1 509.5,322.2 511.5,322.2 513.5,322.3 515.5,322.1 517.5,321.4 519.5,321.6 521.5,321.2 523.5,321.0 525.5,322.1 527.5,321.0 529.5,322.1 531.5,321.0 533.5,321.2 535.5,321.6 537.5,321.1 539.5,321.2 541.5,320.9 543.5,320.7 545.5,320.8 547.5,320.5 549.5,321.5 551.5,320.6 553.5,321.4 555.5,319.4 557.5,320.5 559.5,320.7 561.5,320.2 563.5,320.7 565.5,320.3 567.5,319.8 569.5,319.9 571.5,320.8 573.5,319.4 575.5,319.2 577.5,318.7 579.5,318.7 581.5,317.8 583.5,318.1 585.5,319.0 587.5,318.0 589.5,317.5 591.5,317.4 593.5,317.4 595.5,316.6 597.5,317.1 599.5,316.5 601.5,316.0 603.5,316.7 605.5,314.8 607.5,315.6 609.5,315.9 611.5,315.4 613.5,315.7 615.5,315.4 617.5,315.4 619.5,316.8 621.5,315.8 623.5,315.3 625.5,315.7 627.5,314.8 629.5,315.0 631.5,314.3 633.5,314.3 635.5,312.2 637.5,312.3 639.5,311.2 641.5,309.9 643.5,310.2 645.5,308.6 647.5,309.0 649.5,307.7 651.5,307.1 653.5,306.0 655.5,305.5 657.5,303.4 659.5,303.3 661.5,301.9 663.5,301.2 665.5,299.7 667.5,298.7 669.5,296.7 671.5,296.5 673.5,295.4 675.5,292.9 677.5,291.8 679.5,290.6 681.5,289.8 683.5,288.7 685.5,285.9 687.5,284.7 689.5,283.0 691.5,281.4 693.5,279.6 695.5,279.0 697.5,276.7 699.5,276.3 701.5,274.5 703.5,271.9 705.5,270.3 707.5,268.8 709.5,268.0 711.5,265.3 713.5,263.3 715.5,262.2 717.5,260.7 719.5,258.6 721.5,257.9 723.5,255.6 725.5,253.8 727.5,251.2 729.5,249.6 731.5,247.5 733.5,244.4 735.5,243.3 737.5,239.9 739.5,237.8 741.5,234.0 743.5,232.5 745.5,228.4 747.5,225.3 749.5,221.9 751.5,217.6 753.5,213.6 755.5,211.0 757.5,208.5 759.5,205.7 761.5,204.0 763.5,202.2 765.5,199.2 767.5,198.0 769.5,194.7 771.5,189.9 773.5,187.6 775.5,185.5 777.5,180.5 779.5,176.6 781.5,171.9 783.5,168.1 785.5,162.7 787.5,159.6 789.5,155.4 791.5,150.7 793.5,145.0 795.5,141.4 797.5,135.5 799.5,132.6 800.8,130.7 800.8,405.1 799.5,404.7 797.5,404.2 795.5,404.6 793.5,402.8 791.5,402.1 789.5,402.1 787.5,402.2 785.5,401.5 783.5,400.0 781.5,400.4 779.5,400.0 777.5,400.0 775.5,399.2 773.5,398.9 771.5,398.4 769.5,397.7 767.5,396.8 765.5,397.0 763.5,397.6 761.5,395.7 759.5,396.6 757.5,395.6 755.5,395.4 753.5,394.7 751.5,395.7 749.5,394.1 747.5,393.5 745.5,393.1 743.5,392.7 741.5,391.4 739.5,392.2 737.5,391.5 735.5,391.3 733.5,391.1 731.5,390.9 729.5,389.9 727.5,390.1 725.5,389.0 723.5,389.5 721.5,388.3 719.5,388.8 717.5,387.7 715.5,387.9 713.5,388.1 711.5,386.6 709.5,386.8 707.5,386.4 705.5,385.7 703.5,384.5 701.5,385.1 699.5,384.4 697.5,383.4 695.5,383.4 693.5,383.3 691.5,382.6 689.5,382.1 687.5,383.0 685.5,382.2 683.5,381.4 681.5,380.9 679.5,380.8 677.5,380.7 675.5,380.9 673.5,379.6 671.5,379.4 669.5,378.9 667.5,379.0 665.5,378.3 663.5,378.6 661.5,377.4 659.5,377.5 657.5,376.9 655.5,377.1 653.5,376.6 651.5,376.0 649.5,375.5 647.5,375.2 645.5,375.0 643.5,375.2 641.5,374.8 639.5,374.3 637.5,373.8 635.5,373.8 633.5,373.3 631.5,372.4 629.5,372.4 627.5,372.1 625.5,372.0 623.5,371.1 621.5,371.3 619.5,371.1 617.5,371.1 615.5,370.6 613.5,369.5 611.5,370.1 609.5,369.7 607.5,369.5 605.5,369.9 603.5,368.6 601.5,368.9 599.5,369.0 597.5,368.8 595.5,367.4 593.5,368.0 591.5,366.8 589.5,367.5 587.5,367.0 585.5,366.7 583.5,367.6 581.5,366.6 579.5,365.7 577.5,365.3 575.5,364.7 573.5,365.0 571.5,364.1 569.5,364.6 567.5,364.0 565.5,363.6 563.5,362.8 561.5,363.2 559.5,362.8 557.5,362.0 555.5,362.0 553.5,362.3 551.5,362.4 549.5,362.0 547.5,361.5 545.5,360.9 543.5,360.6 541.5,361.3 539.5,360.8 537.5,359.9 535.5,360.4 533.5,359.7 531.5,359.6 529.5,359.6 527.5,359.2 525.5,358.0 523.5,359.4 521.5,358.0 519.5,357.5 517.5,357.5 515.5,357.5 513.5,357.5 511.5,357.4 509.5,356.2 507.5,356.3 505.5,356.0 503.5,355.6 501.5,355.6 499.5,355.7 497.5,356.1 495.5,355.4 493.5,355.3 491.5,355.1 489.5,354.6 487.5,354.4 485.5,354.0 483.5,353.7 481.5,354.6 479.5,354.2 477.5,353.5 475.5,353.1 473.5,352.5 471.5,352.4 469.5,352.7 467.5,352.3 465.5,352.0 463.5,351.1 461.5,351.4 459.5,351.8 457.5,350.7 455.5,349.8 453.5,349.3 451.5,350.2 449.5,349.3 447.5,347.7 445.5,348.8 443.5,347.1 441.5,346.8 439.5,347.6 437.5,348.1 435.5,348.1 433.5,347.3 431.5,347.3 429.5,346.2 427.5,345.6 425.5,345.5 423.5,344.8 421.5,344.6 419.5,344.6 417.5,343.6 415.5,343.9 413.5,343.4 411.5,342.7 409.5,342.6 407.5,341.8 405.5,342.5 403.5,340.7 401.5,341.5 399.5,340.7 397.5,340.8 395.5,341.0 393.5,339.8 391.5,339.9 389.5,340.5 387.5,339.2 385.5,339.9 383.5,339.4 381.5,338.5 379.5,339.4 377.5,339.2 375.5,337.9 373.5,338.4 371.5,338.7 369.5,338.5 367.5,338.5 365.5,337.6 363.5,337.8 361.5,337.2 359.5,337.5 357.5,337.6 355.5,337.5 353.5,337.3 351.5,336.6 349.5,336.5 347.5,336.4 345.5,336.2 343.5,336.3 341.5,335.9 339.5,336.3 337.5,336.3 335.5,335.2 333.5,334.7 331.5,334.9 329.5,334.2 327.5,334.9 325.5,333.7 323.5,333.0 321.5,333.0 319.5,332.7 317.5,332.4 315.5,332.8 313.5,331.8 311.5,331.7 309.5,331.7 307.5,330.9 305.5,330.8 303.5,330.9 301.5,330.1 299.5,330.2 297.5,329.6 295.5,329.9 293.5,328.9 291.5,329.5 289.5,329.8 287.5,328.8 285.5,329.5 283.5,329.2 281.5,328.9 279.5,328.2 277.5,327.6 275.5,328.1 273.5,327.9 271.5,327.8 269.5,327.2 267.5,328.0 265.5,327.7 263.5,327.0 261.5,327.8 259.5,327.4 257.5,326.5 255.5,326.1 253.5,326.3 251.5,326.4 249.5,325.7 247.5,326.3 245.5,326.7 243.5,326.2 241.5,325.9 239.5,326.1 237.5,325.7 235.5,326.3 233.5,326.1 231.5,326.2 229.5,326.0 227.5,325.3 225.5,325.3 223.5,325.0 221.5,324.8 219.5,324.8 217.5,325.2 215.5,324.5 213.5,324.0 211.5,323.3 209.5,323.9 207.5,323.4 205.5,322.9 203.5,322.2 201.5,322.3 199.5,322.2 197.5,322.4 195.5,321.7 193.5,320.9 191.5,320.4 189.5,319.1 187.5,319.7 185.5,319.5 183.5,319.0 181.5,318.6 179.5,318.7 177.5,318.0 175.5,317.4 173.5,317.0 171.5,317.3 169.5,316.2 167.5,316.7 165.5,315.9 163.5,315.5 161.5,315.3 159.5,315.9 157.5,315.2 155.5,314.7 153.5,314.7 151.5,313.6 149.5,314.4 147.5,313.4 145.5,313.4 143.5,312.5 141.5,312.8 139.5,311.7 137.5,311.8 135.5,311.2 133.5,311.0 131.5,310.5 129.5,310.0 127.5,310.8 125.5,310.0 123.5,310.1 121.5,309.8 119.5,309.6 117.5,309.3 115.5,310.3 113.5,310.3 111.5,310.8 109.5,310.6 107.5,310.9 105.5,310.7 103.5,311.4"/>
<path fill="none" stroke="#000" stroke-width="0.9" stroke-linejoin="round" d="M103.5 405.3 L105.5 405.4 L107.5 405.3 L109.5 405.2 L111.5 405.1 L113.5 405.2 L115.5 405.3 L117.5 405.1 L119.5 405.1 L121.5 405.0 L123.5 404.9 L125.5 404.9 L127.5 404.8 L129.5 404.9 L131.5 404.7 L133.5 404.6 L135.5 404.6 L137.5 404.5 L139.5 404.5 L141.5 404.4 L143.5 404.3 L145.5 404.0 L147.5 404.1 L149.5 404.1 L151.5 403.8 L153.5 404.0 L155.5 403.7 L157.5 403.6 L159.5 403.3 L161.5 403.5 L163.5 403.2 L165.5 403.1 L167.5 403.1 L169.5 402.9 L171.5 402.7 L173.5 402.6 L175.5 402.6 L177.5 402.6 L179.5 402.5 L181.5 402.4 L183.5 402.2 L185.5 402.1 L187.5 402.0 L189.5 402.1 L191.5 401.9 L193.5 401.5 L195.5 401.5 L197.5 401.7 L199.5 401.3 L201.5 401.3 L203.5 401.3 L205.5 401.0 L207.5 401.1 L209.5 401.1 L211.5 400.8 L213.5 400.9 L215.5 400.5 L217.5 400.4 L219.5 400.5 L221.5 400.3 L223.5 400.1 L225.5 400.2 L227.5 399.8 L229.5 399.8 L231.5 399.6 L233.5 399.7 L235.5 399.6 L237.5 399.4 L239.5 399.1 L241.5 399.1 L243.5 399.1 L245.5 398.7 L247.5 398.7 L249.5 398.7 L251.5 398.6 L253.5 398.5 L255.5 398.4 L257.5 398.2 L259.5 398.1 L261.5 398.0 L263.5 397.8 L265.5 397.8 L267.5 397.7 L269.5 397.9 L271.5 397.6 L273.5 397.5 L275.5 397.4 L277.5 397.4 L279.5 397.3 L281.5 397.3 L283.5 397.2 L285.5 397.2 L287.5 397.0 L289.5 397.0 L291.5 397.0 L293.5 396.7 L295.5 396.8 L297.5 396.7 L299.5 396.6 L301.5 396.5 L303.5 396.3 L305.5 396.5 L307.5 396.2 L309.5 396.1 L311.5 396.1 L313.5 395.8 L315.5 396.0 L317.5 395.8 L319.5 395.7 L321.5 395.6 L323.5 395.4 L325.5 395.2 L327.5 395.4 L329.5 395.1 L331.5 395.0 L333.5 395.1 L335.5 394.8 L337.5 394.7 L339.5 394.6 L341.5 394.5 L343.5 394.3 L345.5 394.3 L347.5 394.3 L349.5 394.2 L351.5 393.7 L353.5 393.7 L355.5 393.8 L357.5 393.7 L359.5 393.5 L361.5 393.5 L363.5 393.1 L365.5 393.2 L367.5 392.9 L369.5 392.8 L371.5 392.5 L373.5 392.4 L375.5 392.1 L377.5 391.8 L379.5 391.7 L381.5 391.4 L383.5 391.1 L385.5 391.1 L387.5 390.8 L389.5 390.6 L391.5 390.2 L393.5 389.9 L395.5 389.6 L397.5 389.2 L399.5 389.1 L401.5 388.8 L403.5 388.5 L405.5 388.4 L407.5 387.8 L409.5 387.5 L411.5 387.3 L413.5 387.2 L415.5 386.7 L417.5 386.4 L419.5 386.1 L421.5 385.9 L423.5 385.6 L425.5 385.6 L427.5 385.4 L429.5 385.3 L431.5 385.0 L433.5 385.2 L435.5 384.7 L437.5 384.5 L439.5 384.5 L441.5 384.5 L443.5 384.4 L445.5 384.1 L447.5 384.2 L449.5 384.2 L451.5 383.8 L453.5 383.7 L455.5 383.5 L457.5 383.5 L459.5 383.4 L461.5 383.2 L463.5 383.1 L465.5 382.9 L467.5 382.6 L469.5 382.4 L471.5 382.0 L473.5 381.8 L475.5 381.7 L477.5 381.3 L479.5 381.2 L481.5 381.0 L483.5 380.6 L485.5 380.3 L487.5 380.0 L489.5 379.9 L491.5 379.5 L493.5 379.3 L495.5 379.0 L497.5 378.8 L499.5 378.7 L501.5 378.3 L503.5 378.0 L505.5 378.0 L507.5 377.7 L509.5 377.6 L511.5 377.3 L513.5 377.2 L515.5 377.0 L517.5 376.8 L519.5 376.5 L521.5 376.3 L523.5 376.1 L525.5 375.9 L527.5 375.7 L529.5 375.4 L531.5 375.0 L533.5 375.0 L535.5 374.8 L537.5 374.6 L539.5 374.4 L541.5 374.1 L543.5 373.6 L545.5 373.5 L547.5 373.0 L549.5 372.8 L551.5 372.3 L553.5 372.0 L555.5 371.6 L557.5 371.3 L559.5 370.9 L561.5 370.8 L563.5 370.4 L565.5 370.5 L567.5 370.3 L569.5 370.3 L571.5 370.0 L573.5 369.7 L575.5 369.4 L577.5 369.6 L579.5 369.1 L581.5 369.2 L583.5 368.7 L585.5 368.7 L587.5 368.6 L589.5 368.4 L591.5 368.1 L593.5 367.8 L595.5 367.5 L597.5 367.5 L599.5 367.1 L601.5 366.8 L603.5 366.5 L605.5 366.0 L607.5 365.8 L609.5 365.4 L611.5 364.8 L613.5 364.5 L615.5 364.2 L617.5 363.7 L619.5 363.7 L621.5 363.3 L623.5 362.9 L625.5 362.8 L627.5 362.6 L629.5 362.1 L631.5 362.1 L633.5 361.8 L635.5 361.5 L637.5 361.4 L639.5 361.0 L641.5 360.7 L643.5 360.4 L645.5 360.3 L647.5 360.1 L649.5 359.8 L651.5 359.5 L653.5 359.2 L655.5 359.1 L657.5 358.7 L659.5 358.3 L661.5 358.0 L663.5 357.9 L665.5 357.3 L667.5 357.0 L669.5 356.7 L671.5 356.2 L673.5 356.1 L675.5 355.4 L677.5 355.4 L679.5 354.8 L681.5 354.4 L683.5 354.2 L685.5 353.7 L687.5 353.5 L689.5 353.2 L691.5 352.7 L693.5 352.4 L695.5 352.2 L697.5 351.6 L699.5 351.3 L701.5 350.9 L703.5 350.7 L705.5 350.0 L707.5 349.7 L709.5 349.3 L711.5 348.5 L713.5 348.3 L715.5 347.7 L717.5 347.3 L719.5 347.2 L721.5 346.6 L723.5 346.3 L725.5 345.6 L727.5 345.3 L729.5 344.7 L731.5 344.3 L733.5 343.9 L735.5 343.5 L737.5 343.2 L739.5 342.5 L741.5 342.1 L743.5 341.6 L745.5 341.2 L747.5 340.5 L749.5 340.2 L751.5 339.5 L753.5 339.1 L755.5 338.5 L757.5 338.1 L759.5 337.6 L761.5 337.0 L763.5 336.5 L765.5 336.1 L767.5 335.7 L769.5 335.2 L771.5 334.9 L773.5 334.5 L775.5 333.9 L777.5 333.3 L779.5 333.2 L781.5 332.8 L783.5 332.1 L785.5 331.6 L787.5 330.9 L789.5 330.7 L791.5 330.0 L793.5 329.8 L795.5 328.8 L797.5 328.6 L799.5 328.1 L800.8 327.8"/>
<path fill="none" stroke="#000" stroke-width="0.9" stroke-linejoin="round" d="M103.5 419.4 L105.5 419.3 L107.5 419.3 L109.5 419.2 L111.5 419.2 L113.5 419.2 L115.5 419.0 L117.5 419.0 L119.5 419.0 L121.5 418.8 L123.5 418.8 L125.5 418.6 L127.5 418.7 L129.5 418.4 L131.5 418.5 L133.5 418.0 L135.5 418.1 L137.5 418.0 L139.5 418.1 L141.5 417.9 L143.5 417.7 L145.5 417.6 L147.5 417.6 L149.5 417.3 L151.5 417.2 L153.5 416.9 L155.5 416.7 L157.5 416.7 L159.5 416.7 L161.5 416.2 L163.5 416.1 L165.5 415.8 L167.5 415.8 L169.5 415.4 L171.5 415.3 L173.5 414.9 L175.5 414.9 L177.5 414.8 L179.5 414.8 L181.5 414.4 L183.5 414.4 L185.5 414.2 L187.5 414.0 L189.5 413.8 L191.5 413.6 L193.5 413.5 L195.5 413.7 L197.5 413.3 L199.5 413.2 L201.5 413.3 L203.5 412.8 L205.5 412.9 L207.5 412.7 L209.5 412.7 L211.5 412.6 L213.5 412.4 L215.5 412.3 L217.5 412.2 L219.5 412.1 L221.5 411.8 L223.5 411.8 L225.5 411.5 L227.5 411.7 L229.5 411.3 L231.5 411.3 L233.5 411.3 L235.5 411.1 L237.5 410.9 L239.5 410.7 L241.5 410.6 L243.5 410.6 L245.5 410.4 L247.5 410.3 L249.5 410.4 L251.5 410.0 L253.5 409.9 L255.5 409.8 L257.5 409.7 L259.5 409.6 L261.5 409.4 L263.5 409.4 L265.5 409.3 L267.5 409.1 L269.5 408.8 L271.5 409.0 L273.5 408.7 L275.5 408.6 L277.5 408.6 L279.5 408.4 L281.5 408.3 L283.5 408.3 L285.5 408.1 L287.5 408.1 L289.5 407.9 L291.5 407.8 L293.5 407.7 L295.5 407.6 L297.5 407.6 L299.5 407.4 L301.5 407.2 L303.5 407.2 L305.5 407.1 L307.5 407.0 L309.5 406.8 L311.5 406.6 L313.5 406.4 L315.5 406.5 L317.5 406.1 L319.5 405.9 L321.5 405.9 L323.5 405.6 L325.5 405.7 L327.5 405.5 L329.5 405.3 L331.5 405.1 L333.5 405.0 L335.5 405.0 L337.5 404.8 L339.5 404.9 L341.5 404.6 L343.5 404.2 L345.5 404.3 L347.5 404.1 L349.5 404.1 L351.5 403.9 L353.5 403.8 L355.5 403.6 L357.5 403.6 L359.5 403.6 L361.5 403.3 L363.5 403.0 L365.5 403.0 L367.5 403.2 L369.5 402.9 L371.5 402.8 L373.5 402.6 L375.5 402.7 L377.5 402.5 L379.5 402.4 L381.5 402.3 L383.5 402.2 L385.5 402.1 L387.5 402.1 L389.5 402.0 L391.5 401.6 L393.5 401.5 L395.5 401.5 L397.5 401.4 L399.5 401.2 L401.5 401.1 L403.5 401.0 L405.5 400.9 L407.5 400.8 L409.5 400.8 L411.5 400.8 L413.5 400.7 L415.5 400.6 L417.5 400.5 L419.5 400.4 L421.5 400.4 L423.5 400.5 L425.5 400.4 L427.5 400.5 L429.5 400.5 L431.5 400.6 L433.5 400.7 L435.5 400.6 L437.5 400.9 L439.5 400.9 L441.5 401.1 L443.5 401.0 L445.5 401.2 L447.5 401.2 L449.5 401.3 L451.5 401.4 L453.5 401.4 L455.5 401.5 L457.5 401.5 L459.5 401.7 L461.5 401.6 L463.5 401.7 L465.5 401.7 L467.5 401.8 L469.5 401.9 L471.5 402.0 L473.5 402.0 L475.5 402.3 L477.5 402.2 L479.5 402.4 L481.5 402.5 L483.5 402.4 L485.5 402.7 L487.5 402.7 L489.5 403.0 L491.5 403.3 L493.5 403.6 L495.5 403.6 L497.5 403.6 L499.5 403.9 L501.5 404.3 L503.5 404.4 L505.5 404.7 L507.5 404.7 L509.5 405.0 L511.5 405.2 L513.5 405.5 L515.5 405.9 L517.5 406.0 L519.5 406.4 L521.5 406.6 L523.5 407.0 L525.5 407.2 L527.5 407.5 L529.5 408.0 L531.5 408.0 L533.5 408.5 L535.5 408.9 L537.5 409.0 L539.5 409.4 L541.5 409.2 L543.5 409.6 L545.5 409.7 L547.5 409.9 L549.5 410.1 L551.5 410.3 L553.5 410.4 L555.5 410.7 L557.5 410.6 L559.5 411.0 L561.5 411.1 L563.5 411.1 L565.5 411.3 L567.5 411.5 L569.5 411.7 L571.5 412.0 L573.5 412.3 L575.5 412.5 L577.5 412.5 L579.5 412.7 L581.5 413.2 L583.5 413.4 L585.5 414.0 L587.5 414.4 L589.5 415.2 L591.5 415.3 L593.5 416.1 L595.5 416.8 L597.5 417.1 L599.5 417.6 L601.5 418.3 L603.5 418.5 L605.5 419.1 L607.5 419.6 L609.5 420.3 L611.5 420.9 L613.5 421.4 L615.5 422.2 L617.5 422.5 L619.5 423.1 L621.5 423.7 L623.5 424.5 L625.5 425.0 L627.5 425.5 L629.5 426.4 L631.5 427.0 L633.5 427.6 L635.5 428.0 L637.5 428.7 L639.5 429.5 L641.5 430.2 L643.5 430.9 L645.5 431.6 L647.5 432.4 L649.5 432.9 L651.5 433.8 L653.5 434.5 L655.5 435.2 L657.5 436.0 L659.5 436.9 L661.5 437.6 L663.5 438.3 L665.5 439.3 L667.5 440.1 L669.5 441.0 L671.5 441.8 L673.5 442.8 L675.5 443.6 L677.5 444.4 L679.5 445.2 L681.5 446.1 L683.5 447.2 L685.5 448.0 L687.5 448.9 L689.5 449.9 L691.5 450.9 L693.5 451.9 L695.5 452.6 L697.5 453.8 L699.5 454.6 L701.5 455.7 L703.5 456.5 L705.5 457.4 L707.5 458.7 L709.5 459.8 L711.5 460.7 L713.5 461.9 L715.5 463.1 L717.5 464.3 L719.5 465.3 L721.5 466.5 L723.5 467.8 L725.5 469.1 L727.5 470.0 L729.5 471.3 L731.5 472.4 L733.5 473.6 L735.5 474.8 L737.5 476.0 L739.5 477.2 L741.5 478.5 L743.5 479.8 L745.5 481.0 L747.5 482.3 L749.5 483.4 L751.5 484.8 L753.5 485.7 L755.5 487.2 L757.5 488.6 L759.5 489.8 L761.5 491.4 L763.5 492.7 L765.5 493.9 L767.5 495.4 L769.5 496.5 L771.5 498.0 L773.5 499.4 L775.5 500.6 L777.5 502.3 L779.5 503.6 L781.5 505.2 L783.5 506.6 L785.5 508.2 L787.5 509.7 L789.5 511.3 L791.5 513.0 L793.5 514.8 L795.5 516.6 L797.5 518.2 L799.5 520.0 L800.8 521.2"/>
<path fill="none" stroke="#000" stroke-width="0.9" stroke-linejoin="round" d="M103.5 274.6 L105.5 273.7 L107.5 273.3 L109.5 272.0 L111.5 272.4 L113.5 272.0 L115.5 271.8 L117.5 271.2 L119.5 271.2 L121.5 270.9 L123.5 270.4 L125.5 271.4 L127.5 271.5 L129.5 271.9 L131.5 271.3 L133.5 271.2 L135.5 271.3 L137.5 271.1 L139.5 272.4 L141.5 271.7 L143.5 271.9 L145.5 272.7 L147.5 273.9 L149.5 273.8 L151.5 273.6 L153.5 274.2 L155.5 275.2 L157.5 275.2 L159.5 275.4 L161.5 276.0 L163.5 276.9 L165.5 277.9 L167.5 276.9 L169.5 277.6 L171.5 278.0 L173.5 277.7 L175.5 278.8 L177.5 279.2 L179.5 280.6 L181.5 280.5 L183.5 280.3 L185.5 281.8 L187.5 281.8 L189.5 281.7 L191.5 282.7 L193.5 283.2 L195.5 283.5 L197.5 284.4 L199.5 283.9 L201.5 285.2 L203.5 286.3 L205.5 286.7 L207.5 287.3 L209.5 287.7 L211.5 288.3 L213.5 287.4 L215.5 288.6 L217.5 287.5 L219.5 288.3 L221.5 287.8 L223.5 289.3 L225.5 289.6 L227.5 289.1 L229.5 290.2 L231.5 289.4 L233.5 290.0 L235.5 290.3 L237.5 290.0 L239.5 290.8 L241.5 291.5 L243.5 290.1 L245.5 291.0 L247.5 290.5 L249.5 291.4 L251.5 290.8 L253.5 290.9 L255.5 290.9 L257.5 290.7 L259.5 290.0 L261.5 291.2 L263.5 290.0 L265.5 290.7 L267.5 290.9 L269.5 290.3 L271.5 290.8 L273.5 291.3 L275.5 290.8 L277.5 290.5 L279.5 289.7 L281.5 290.6 L283.5 290.9 L285.5 291.2 L287.5 291.2 L289.5 292.1 L291.5 291.9 L293.5 292.5 L295.5 293.2 L297.5 292.8 L299.5 293.4 L301.5 294.8 L303.5 294.6 L305.5 294.1 L307.5 295.1 L309.5 295.9 L311.5 296.6 L313.5 296.6 L315.5 296.8 L317.5 297.2 L319.5 298.2 L321.5 298.4 L323.5 298.4 L325.5 298.9 L327.5 299.2 L329.5 300.1 L331.5 299.8 L333.5 300.6 L335.5 301.1 L337.5 301.2 L339.5 301.0 L341.5 302.2 L343.5 301.6 L345.5 302.4 L347.5 302.1 L349.5 301.9 L351.5 303.0 L353.5 303.3 L355.5 303.4 L357.5 303.8 L359.5 303.6 L361.5 303.9 L363.5 304.4 L365.5 305.5 L367.5 305.3 L369.5 304.9 L371.5 305.6 L373.5 305.4 L375.5 305.6 L377.5 306.5 L379.5 306.1 L381.5 305.8 L383.5 306.4 L385.5 307.1 L387.5 307.3 L389.5 308.1 L391.5 307.4 L393.5 308.3 L395.5 308.5 L397.5 308.5 L399.5 309.3 L401.5 309.5 L403.5 309.4 L405.5 310.9 L407.5 310.5 L409.5 311.7 L411.5 312.4 L413.5 313.2 L415.5 313.3 L417.5 314.1 L419.5 314.5 L421.5 315.3 L423.5 314.8 L425.5 315.4 L427.5 315.5 L429.5 315.3 L431.5 317.3 L433.5 316.3 L435.5 315.8 L437.5 317.2 L439.5 316.1 L441.5 316.3 L443.5 316.3 L445.5 316.8 L447.5 315.8 L449.5 317.6 L451.5 317.6 L453.5 317.0 L455.5 317.5 L457.5 318.5 L459.5 319.4 L461.5 319.5 L463.5 320.2 L465.5 320.0 L467.5 319.6 L469.5 320.0 L471.5 319.4 L473.5 320.0 L475.5 320.2 L477.5 320.9 L479.5 321.3 L481.5 320.9 L483.5 321.0 L485.5 320.8 L487.5 321.6 L489.5 322.0 L491.5 322.2 L493.5 321.8 L495.5 323.2 L497.5 322.9 L499.5 322.4 L501.5 322.1 L503.5 322.2 L505.5 322.3 L507.5 322.1 L509.5 322.2 L511.5 322.2 L513.5 322.3 L515.5 322.1 L517.5 321.4 L519.5 321.6 L521.5 321.2 L523.5 321.0 L525.5 322.1 L527.5 321.0 L529.5 322.1 L531.5 321.0 L533.5 321.2 L535.5 321.6 L537.5 321.1 L539.5 321.2 L541.5 320.9 L543.5 320.7 L545.5 320.8 L547.5 320.5 L549.5 321.5 L551.5 320.6 L553.5 321.4 L555.5 319.4 L557.5 320.5 L559.5 320.7 L561.5 320.2 L563.5 320.7 L565.5 320.3 L567.5 319.8 L569.5 319.9 L571.5 320.8 L573.5 319.4 L575.5 319.2 L577.5 318.7 L579.5 318.7 L581.5 317.8 L583.5 318.1 L585.5 319.0 L587.5 318.0 L589.5 317.5 L591.5 317.4 L593.5 317.4 L595.5 316.6 L597.5 317.1 L599.5 316.5 L601.5 316.0 L603.5 316.7 L605.5 314.8 L607.5 315.6 L609.5 315.9 L611.5 315.4 L613.5 315.7 L615.5 315.4 L617.5 315.4 L619.5 316.8 L621.5 315.8 L623.5 315.3 L625.5 315.7 L627.5 314.8 L629.5 315.0 L631.5 314.3 L633.5 314.3 L635.5 312.2 L637.5 312.3 L639.5 311.2 L641.5 309.9 L643.5 310.2 L645.5 308.6 L647.5 309.0 L649.5 307.7 L651.5 307.1 L653.5 306.0 L655.5 305.5 L657.5 303.4 L659.5 303.3 L661.5 301.9 L663.5 301.2 L665.5 299.7 L667.5 298.7 L669.5 296.7 L671.5 296.5 L673.5 295.4 L675.5 292.9 L677.5 291.8 L679.5 290.6 L681.5 289.8 L683.5 288.7 L685.5 285.9 L687.5 284.7 L689.5 283.0 L691.5 281.4 L693.5 279.6 L695.5 279.0 L697.5 276.7 L699.5 276.3 L701.5 274.5 L703.5 271.9 L705.5 270.3 L707.5 268.8 L709.5 268.0 L711.5 265.3 L713.5 263.3 L715.5 262.2 L717.5 260.7 L719.5 258.6 L721.5 257.9 L723.5 255.6 L725.5 253.8 L727.5 251.2 L729.5 249.6 L731.5 247.5 L733.5 244.4 L735.5 243.3 L737.5 239.9 L739.5 237.8 L741.5 234.0 L743.5 232.5 L745.5 228.4 L747.5 225.3 L749.5 221.9 L751.5 217.6 L753.5 213.6 L755.5 211.0 L757.5 208.5 L759.5 205.7 L761.5 204.0 L763.5 202.2 L765.5 199.2 L767.5 198.0 L769.5 194.7 L771.5 189.9 L773.5 187.6 L775.5 185.5 L777.5 180.5 L779.5 176.6 L781.5 171.9 L783.5 168.1 L785.5 162.7 L787.5 159.6 L789.5 155.4 L791.5 150.7 L793.5 145.0 L795.5 141.4 L797.5 135.5 L799.5 132.6 L800.8 130.7"/>
<path fill="none" stroke="#000" stroke-width="0.9" stroke-linejoin="round" d="M103.5 311.4 L105.5 310.7 L107.5 310.9 L109.5 310.6 L111.5 310.8 L113.5 310.3 L115.5 310.3 L117.5 309.3 L119.5 309.6 L121.5 309.8 L123.5 310.1 L125.5 310.0 L127.5 310.8 L129.5 310.0 L131.5 310.5 L133.5 311.0 L135.5 311.2 L137.5 311.8 L139.5 311.7 L141.5 312.8 L143.5 312.5 L145.5 313.4 L147.5 313.4 L149.5 314.4 L151.5 313.6 L153.5 314.7 L155.5 314.7 L157.5 315.2 L159.5 315.9 L161.5 315.3 L163.5 315.5 L165.5 315.9 L167.5 316.7 L169.5 316.2 L171.5 317.3 L173.5 317.0 L175.5 317.4 L177.5 318.0 L179.5 318.7 L181.5 318.6 L183.5 319.0 L185.5 319.5 L187.5 319.7 L189.5 319.1 L191.5 320.4 L193.5 320.9 L195.5 321.7 L197.5 322.4 L199.5 322.2 L201.5 322.3 L203.5 322.2 L205.5 322.9 L207.5 323.4 L209.5 323.9 L211.5 323.3 L213.5 324.0 L215.5 324.5 L217.5 325.2 L219.5 324.8 L221.5 324.8 L223.5 325.0 L225.5 325.3 L227.5 325.3 L229.5 326.0 L231.5 326.2 L233.5 326.1 L235.5 326.3 L237.5 325.7 L239.5 326.1 L241.5 325.9 L243.5 326.2 L245.5 326.7 L247.5 326.3 L249.5 325.7 L251.5 326.4 L253.5 326.3 L255.5 326.1 L257.5 326.5 L259.5 327.4 L261.5 327.8 L263.5 327.0 L265.5 327.7 L267.5 328.0 L269.5 327.2 L271.5 327.8 L273.5 327.9 L275.5 328.1 L277.5 327.6 L279.5 328.2 L281.5 328.9 L283.5 329.2 L285.5 329.5 L287.5 328.8 L289.5 329.8 L291.5 329.5 L293.5 328.9 L295.5 329.9 L297.5 329.6 L299.5 330.2 L301.5 330.1 L303.5 330.9 L305.5 330.8 L307.5 330.9 L309.5 331.7 L311.5 331.7 L313.5 331.8 L315.5 332.8 L317.5 332.4 L319.5 332.7 L321.5 333.0 L323.5 333.0 L325.5 333.7 L327.5 334.9 L329.5 334.2 L331.5 334.9 L333.5 334.7 L335.5 335.2 L337.5 336.3 L339.5 336.3 L341.5 335.9 L343.5 336.3 L345.5 336.2 L347.5 336.4 L349.5 336.5 L351.5 336.6 L353.5 337.3 L355.5 337.5 L357.5 337.6 L359.5 337.5 L361.5 337.2 L363.5 337.8 L365.5 337.6 L367.5 338.5 L369.5 338.5 L371.5 338.7 L373.5 338.4 L375.5 337.9 L377.5 339.2 L379.5 339.4 L381.5 338.5 L383.5 339.4 L385.5 339.9 L387.5 339.2 L389.5 340.5 L391.5 339.9 L393.5 339.8 L395.5 341.0 L397.5 340.8 L399.5 340.7 L401.5 341.5 L403.5 340.7 L405.5 342.5 L407.5 341.8 L409.5 342.6 L411.5 342.7 L413.5 343.4 L415.5 343.9 L417.5 343.6 L419.5 344.6 L421.5 344.6 L423.5 344.8 L425.5 345.5 L427.5 345.6 L429.5 346.2 L431.5 347.3 L433.5 347.3 L435.5 348.1 L437.5 348.1 L439.5 347.6 L441.5 346.8 L443.5 347.1 L445.5 348.8 L447.5 347.7 L449.5 349.3 L451.5 350.2 L453.5 349.3 L455.5 349.8 L457.5 350.7 L459.5 351.8 L461.5 351.4 L463.5 351.1 L465.5 352.0 L467.5 352.3 L469.5 352.7 L471.5 352.4 L473.5 352.5 L475.5 353.1 L477.5 353.5 L479.5 354.2 L481.5 354.6 L483.5 353.7 L485.5 354.0 L487.5 354.4 L489.5 354.6 L491.5 355.1 L493.5 355.3 L495.5 355.4 L497.5 356.1 L499.5 355.7 L501.5 355.6 L503.5 355.6 L505.5 356.0 L507.5 356.3 L509.5 356.2 L511.5 357.4 L513.5 357.5 L515.5 357.5 L517.5 357.5 L519.5 357.5 L521.5 358.0 L523.5 359.4 L525.5 358.0 L527.5 359.2 L529.5 359.6 L531.5 359.6 L533.5 359.7 L535.5 360.4 L537.5 359.9 L539.5 360.8 L541.5 361.3 L543.5 360.6 L545.5 360.9 L547.5 361.5 L549.5 362.0 L551.5 362.4 L553.5 362.3 L555.5 362.0 L557.5 362.0 L559.5 362.8 L561.5 363.2 L563.5 362.8 L565.5 363.6 L567.5 364.0 L569.5 364.6 L571.5 364.1 L573.5 365.0 L575.5 364.7 L577.5 365.3 L579.5 365.7 L581.5 366.6 L583.5 367.6 L585.5 366.7 L587.5 367.0 L589.5 367.5 L591.5 366.8 L593.5 368.0 L595.5 367.4 L597.5 368.8 L599.5 369.0 L601.5 368.9 L603.5 368.6 L605.5 369.9 L607.5 369.5 L609.5 369.7 L611.5 370.1 L613.5 369.5 L615.5 370.6 L617.5 371.1 L619.5 371.1 L621.5 371.3 L623.5 371.1 L625.5 372.0 L627.5 372.1 L629.5 372.4 L631.5 372.4 L633.5 373.3 L635.5 373.8 L637.5 373.8 L639.5 374.3 L641.5 374.8 L643.5 375.2 L645.5 375.0 L647.5 375.2 L649.5 375.5 L651.5 376.0 L653.5 376.6 L655.5 377.1 L657.5 376.9 L659.5 377.5 L661.5 377.4 L663.5 378.6 L665.5 378.3 L667.5 379.0 L669.5 378.9 L671.5 379.4 L673.5 379.6 L675.5 380.9 L677.5 380.7 L679.5 380.8 L681.5 380.9 L683.5 381.4 L685.5 382.2 L687.5 383.0 L689.5 382.1 L691.5 382.6 L693.5 383.3 L695.5 383.4 L697.5 383.4 L699.5 384.4 L701.5 385.1 L703.5 384.5 L705.5 385.7 L707.5 386.4 L709.5 386.8 L711.5 386.6 L713.5 388.1 L715.5 387.9 L717.5 387.7 L719.5 388.8 L721.5 388.3 L723.5 389.5 L725.5 389.0 L727.5 390.1 L729.5 389.9 L731.5 390.9 L733.5 391.1 L735.5 391.3 L737.5 391.5 L739.5 392.2 L741.5 391.4 L743.5 392.7 L745.5 393.1 L747.5 393.5 L749.5 394.1 L751.5 395.7 L753.5 394.7 L755.5 395.4 L757.5 395.6 L759.5 396.6 L761.5 395.7 L763.5 397.6 L765.5 397.0 L767.5 396.8 L769.5 397.7 L771.5 398.4 L773.5 398.9 L775.5 399.2 L777.5 400.0 L779.5 400.0 L781.5 400.4 L783.5 400.0 L785.5 401.5 L787.5 402.2 L789.5 402.1 L791.5 402.1 L793.5 402.8 L795.5 404.6 L797.5 404.2 L799.5 404.7 L800.8 405.1"/>
<path fill="none" stroke="#000" stroke-width="0.9" stroke-dasharray="2.1 4.4" d="M103.5 326.0 L105.5 325.8 L107.5 325.7 L109.5 325.5 L111.5 325.4 L113.5 325.3 L115.5 325.2 L117.5 325.1 L119.5 325.0 L121.5 324.9 L123.5 324.9 L125.5 324.8 L127.5 324.8 L129.5 324.8 L131.5 324.8 L133.5 324.8 L135.5 324.9 L137.5 325.0 L139.5 325.1 L141.5 325.2 L143.5 325.3 L145.5 325.4 L147.5 325.5 L149.5 325.7 L151.5 325.8 L153.5 326.0 L155.5 326.1 L157.5 326.2 L159.5 326.4 L161.5 326.5 L163.5 326.6 L165.5 326.8 L167.5 326.9 L169.5 327.1 L171.5 327.2 L173.5 327.4 L175.5 327.5 L177.5 327.7 L179.5 327.8 L181.5 328.0 L183.5 328.1 L185.5 328.3 L187.5 328.4 L189.5 328.6 L191.5 328.7 L193.5 328.8 L195.5 329.0 L197.5 329.1 L199.5 329.3 L201.5 329.4 L203.5 329.5 L205.5 329.7 L207.5 329.8 L209.5 329.9 L211.5 330.1 L213.5 330.2 L215.5 330.3 L217.5 330.4 L219.5 330.6 L221.5 330.7 L223.5 330.8 L225.5 330.9 L227.5 331.1 L229.5 331.2 L231.5 331.3 L233.5 331.4 L235.5 331.6 L237.5 331.7 L239.5 331.8 L241.5 331.9 L243.5 332.0 L245.5 332.2 L247.5 332.3 L249.5 332.4 L251.5 332.5 L253.5 332.6 L255.5 332.7 L257.5 332.8 L259.5 332.9 L261.5 333.0 L263.5 333.1 L265.5 333.2 L267.5 333.3 L269.5 333.4 L271.5 333.4 L273.5 333.5 L275.5 333.6 L277.5 333.7 L279.5 333.8 L281.5 333.8 L283.5 333.9 L285.5 334.0 L287.5 334.1 L289.5 334.2 L291.5 334.2 L293.5 334.3 L295.5 334.4 L297.5 334.5 L299.5 334.6 L301.5 334.7 L303.5 334.8 L305.5 334.9 L307.5 335.0 L309.5 335.1 L311.5 335.2 L313.5 335.3 L315.5 335.4 L317.5 335.5 L319.5 335.6 L321.5 335.8 L323.5 335.9 L325.5 336.0 L327.5 336.1 L329.5 336.2 L331.5 336.3 L333.5 336.4 L335.5 336.4 L337.5 336.5 L339.5 336.6 L341.5 336.6 L343.5 336.7 L345.5 336.8 L347.5 336.8 L349.5 336.8 L351.5 336.9 L353.5 336.9 L355.5 337.0 L357.5 337.0 L359.5 337.0 L361.5 337.1 L363.5 337.1 L365.5 337.1 L367.5 337.2 L369.5 337.2 L371.5 337.3 L373.5 337.3 L375.5 337.4 L377.5 337.4 L379.5 337.5 L381.5 337.6 L383.5 337.6 L385.5 337.7 L387.5 337.8 L389.5 337.9 L391.5 338.1 L393.5 338.2 L395.5 338.3 L397.5 338.4 L399.5 338.6 L401.5 338.7 L403.5 338.9 L405.5 339.0 L407.5 339.1 L409.5 339.3 L411.5 339.4 L413.5 339.6 L415.5 339.7 L417.5 339.8 L419.5 340.0 L421.5 340.1 L423.5 340.2 L425.5 340.3 L427.5 340.5 L429.5 340.6 L431.5 340.7 L433.5 340.9 L435.5 341.0 L437.5 341.1 L439.5 341.2 L441.5 341.4 L443.5 341.5 L445.5 341.6 L447.5 341.7 L449.5 341.8 L451.5 342.0 L453.5 342.1 L455.5 342.2 L457.5 342.3 L459.5 342.4 L461.5 342.5 L463.5 342.6 L465.5 342.6 L467.5 342.7 L469.5 342.8 L471.5 342.9 L473.5 343.0 L475.5 343.0 L477.5 343.1 L479.5 343.2 L481.5 343.2 L483.5 343.3 L485.5 343.4 L487.5 343.4 L489.5 343.5 L491.5 343.6 L493.5 343.7 L495.5 343.8 L497.5 343.9 L499.5 344.0 L501.5 344.1 L503.5 344.2 L505.5 344.4 L507.5 344.5 L509.5 344.7 L511.5 344.9 L513.5 345.1 L515.5 345.3 L517.5 345.5 L519.5 345.7 L521.5 345.9 L523.5 346.1 L525.5 346.3 L527.5 346.4 L529.5 346.6 L531.5 346.7 L533.5 346.8 L535.5 346.9 L537.5 347.0 L539.5 347.0 L541.5 347.0 L543.5 346.9 L545.5 346.8 L547.5 346.7 L549.5 346.5 L551.5 346.4 L553.5 346.2 L555.5 346.0 L557.5 345.8 L559.5 345.6 L561.5 345.5 L563.5 345.3 L565.5 345.1 L567.5 344.9 L569.5 344.6 L571.5 344.4 L573.5 344.2 L575.5 344.0 L577.5 343.8 L579.5 343.6 L581.5 343.5 L583.5 343.4 L585.5 343.2 L587.5 343.1 L589.5 343.0 L591.5 342.9 L593.5 342.8 L595.5 342.6 L597.5 342.5 L599.5 342.4 L601.5 342.3 L603.5 342.2 L605.5 342.1 L607.5 342.0 L609.5 341.9 L611.5 341.8 L613.5 341.7 L615.5 341.6 L617.5 341.5 L619.5 341.4 L621.5 341.3 L623.5 341.2 L625.5 341.1 L627.5 341.0 L629.5 340.8 L631.5 340.7 L633.5 340.6 L635.5 340.4 L637.5 340.2 L639.5 340.1 L641.5 339.8 L643.5 339.5 L645.5 339.2 L647.5 338.8 L649.5 338.4 L651.5 338.0 L653.5 337.5 L655.5 337.1 L657.5 336.6 L659.5 336.1 L661.5 335.7 L663.5 335.2 L665.5 334.5 L667.5 333.6 L669.5 332.6 L671.5 331.5 L673.5 330.3 L675.5 329.1 L677.5 327.8 L679.5 326.6 L681.5 325.4 L683.5 324.3 L685.5 323.2 L687.5 322.2 L689.5 321.3 L691.5 320.3 L693.5 319.4 L695.5 318.4 L697.5 317.5 L699.5 316.5 L701.5 315.4 L703.5 314.3 L705.5 313.1 L707.5 311.8 L709.5 310.5 L711.5 309.1 L713.5 307.7 L715.5 306.3 L717.5 304.8 L719.5 303.3 L721.5 301.8 L723.5 300.4 L725.5 298.9 L727.5 297.4 L729.5 296.0 L731.5 294.5 L733.5 293.0 L735.5 291.5 L737.5 290.0 L739.5 288.5 L741.5 286.9 L743.5 285.4 L745.5 283.8 L747.5 282.3 L749.5 280.7 L751.5 279.1 L753.5 277.5 L755.5 275.9 L757.5 274.2 L759.5 272.6 L761.5 271.0 L763.5 269.4 L765.5 267.8 L767.5 266.2 L769.5 264.7 L771.5 263.1 L773.5 261.5 L775.5 259.9 L777.5 258.4 L779.5 256.7 L781.5 255.1 L783.5 253.4 L785.5 251.7 L787.5 250.0 L789.5 248.2 L791.5 246.4 L793.5 244.6 L795.5 242.8 L797.5 240.9 L799.5 239.0 L800.8 237.8"/>
<path fill="none" stroke="#000" stroke-width="0.9" stroke-dasharray="2.1 4.4" d="M103.5 398.0 L105.5 398.0 L107.5 397.9 L109.5 397.9 L111.5 397.8 L113.5 397.8 L115.5 397.7 L117.5 397.7 L119.5 397.6 L121.5 397.6 L123.5 397.5 L125.5 397.5 L127.5 397.4 L129.5 397.4 L131.5 397.3 L133.5 397.3 L135.5 397.2 L137.5 397.2 L139.5 397.1 L141.5 397.1 L143.5 397.0 L145.5 397.0 L147.5 396.9 L149.5 396.9 L151.5 396.8 L153.5 396.8 L155.5 396.7 L157.5 396.7 L159.5 396.6 L161.5 396.6 L163.5 396.5 L165.5 396.5 L167.5 396.4 L169.5 396.3 L171.5 396.3 L173.5 396.2 L175.5 396.2 L177.5 396.1 L179.5 396.0 L181.5 396.0 L183.5 395.9 L185.5 395.9 L187.5 395.8 L189.5 395.8 L191.5 395.7 L193.5 395.6 L195.5 395.6 L197.5 395.5 L199.5 395.5 L201.5 395.4 L203.5 395.4 L205.5 395.3 L207.5 395.3 L209.5 395.2 L211.5 395.2 L213.5 395.1 L215.5 395.1 L217.5 395.0 L219.5 395.0 L221.5 395.0 L223.5 394.9 L225.5 394.9 L227.5 394.9 L229.5 394.9 L231.5 394.8 L233.5 394.8 L235.5 394.8 L237.5 394.8 L239.5 394.8 L241.5 394.7 L243.5 394.7 L245.5 394.7 L247.5 394.7 L249.5 394.7 L251.5 394.6 L253.5 394.6 L255.5 394.6 L257.5 394.5 L259.5 394.5 L261.5 394.5 L263.5 394.4 L265.5 394.4 L267.5 394.4 L269.5 394.3 L271.5 394.3 L273.5 394.2 L275.5 394.1 L277.5 394.0 L279.5 393.9 L281.5 393.9 L283.5 393.8 L285.5 393.7 L287.5 393.6 L289.5 393.5 L291.5 393.4 L293.5 393.2 L295.5 393.1 L297.5 393.0 L299.5 392.9 L301.5 392.8 L303.5 392.7 L305.5 392.6 L307.5 392.5 L309.5 392.3 L311.5 392.2 L313.5 392.1 L315.5 391.9 L317.5 391.8 L319.5 391.7 L321.5 391.5 L323.5 391.4 L325.5 391.2 L327.5 391.1 L329.5 390.9 L331.5 390.8 L333.5 390.7 L335.5 390.5 L337.5 390.4 L339.5 390.2 L341.5 390.1 L343.5 390.0 L345.5 389.8 L347.5 389.7 L349.5 389.6 L351.5 389.4 L353.5 389.3 L355.5 389.2 L357.5 389.0 L359.5 388.9 L361.5 388.8 L363.5 388.6 L365.5 388.5 L367.5 388.4 L369.5 388.2 L371.5 388.1 L373.5 387.9 L375.5 387.8 L377.5 387.6 L379.5 387.4 L381.5 387.3 L383.5 387.1 L385.5 386.9 L387.5 386.7 L389.5 386.5 L391.5 386.3 L393.5 386.1 L395.5 385.9 L397.5 385.6 L399.5 385.4 L401.5 385.3 L403.5 385.1 L405.5 384.9 L407.5 384.7 L409.5 384.5 L411.5 384.3 L413.5 384.1 L415.5 384.0 L417.5 383.8 L419.5 383.6 L421.5 383.4 L423.5 383.2 L425.5 383.0 L427.5 382.9 L429.5 382.7 L431.5 382.5 L433.5 382.3 L435.5 382.1 L437.5 382.0 L439.5 381.8 L441.5 381.6 L443.5 381.4 L445.5 381.2 L447.5 381.1 L449.5 380.9 L451.5 380.7 L453.5 380.5 L455.5 380.4 L457.5 380.2 L459.5 380.0 L461.5 379.9 L463.5 379.7 L465.5 379.6 L467.5 379.4 L469.5 379.3 L471.5 379.1 L473.5 379.0 L475.5 378.8 L477.5 378.7 L479.5 378.5 L481.5 378.4 L483.5 378.2 L485.5 378.1 L487.5 377.9 L489.5 377.8 L491.5 377.6 L493.5 377.5 L495.5 377.3 L497.5 377.2 L499.5 377.0 L501.5 376.9 L503.5 376.7 L505.5 376.6 L507.5 376.5 L509.5 376.3 L511.5 376.2 L513.5 376.1 L515.5 375.9 L517.5 375.8 L519.5 375.6 L521.5 375.5 L523.5 375.4 L525.5 375.2 L527.5 375.1 L529.5 374.9 L531.5 374.8 L533.5 374.6 L535.5 374.4 L537.5 374.2 L539.5 374.0 L541.5 373.8 L543.5 373.6 L545.5 373.4 L547.5 373.1 L549.5 372.8 L551.5 372.6 L553.5 372.3 L555.5 372.0 L557.5 371.8 L559.5 371.6 L561.5 371.3 L563.5 371.1 L565.5 370.9 L567.5 370.6 L569.5 370.4 L571.5 370.2 L573.5 370.0 L575.5 369.8 L577.5 369.7 L579.5 369.6 L581.5 369.6 L583.5 369.5 L585.5 369.5 L587.5 369.5 L589.5 369.5 L591.5 369.5 L593.5 369.5 L595.5 369.4 L597.5 369.4 L599.5 369.4 L601.5 369.4 L603.5 369.3 L605.5 369.3 L607.5 369.2 L609.5 369.2 L611.5 369.1 L613.5 369.1 L615.5 369.0 L617.5 369.0 L619.5 369.0 L621.5 369.0 L623.5 369.0 L625.5 369.0 L627.5 369.0 L629.5 369.0 L631.5 369.0 L633.5 369.0 L635.5 369.0 L637.5 369.0 L639.5 369.0 L641.5 369.0 L643.5 369.0 L645.5 369.0 L647.5 369.0 L649.5 369.0 L651.5 369.0 L653.5 369.0 L655.5 369.0 L657.5 369.0 L659.5 369.0 L661.5 369.0 L663.5 369.0 L665.5 368.9 L667.5 368.9 L669.5 368.8 L671.5 368.8 L673.5 368.7 L675.5 368.6 L677.5 368.5 L679.5 368.4 L681.5 368.3 L683.5 368.1 L685.5 367.9 L687.5 367.7 L689.5 367.6 L691.5 367.6 L693.5 367.8 L695.5 368.0 L697.5 368.2 L699.5 368.5 L701.5 368.9 L703.5 369.5 L705.5 370.2 L707.5 370.9 L709.5 371.6 L711.5 372.1 L713.5 372.4 L715.5 372.4 L717.5 372.3 L719.5 372.2 L721.5 372.2 L723.5 372.1 L725.5 372.1 L727.5 372.1 L729.5 372.0 L731.5 372.0 L733.5 372.0 L735.5 372.0 L737.5 372.1 L739.5 372.2 L741.5 372.4 L743.5 372.6 L745.5 372.8 L747.5 373.1 L749.5 373.4 L751.5 373.6 L753.5 373.9 L755.5 374.2 L757.5 374.6 L759.5 375.0 L761.5 375.4 L763.5 375.9 L765.5 376.5 L767.5 377.0 L769.5 377.6 L771.5 378.2 L773.5 378.8 L775.5 379.5 L777.5 380.3 L779.5 381.2 L781.5 382.1 L783.5 383.0 L785.5 383.9 L787.5 384.8 L789.5 385.6 L791.5 386.4 L793.5 387.2 L795.5 388.0 L797.5 388.8 L799.5 389.6 L800.8 390.1"/>
<path fill="none" stroke="#000" stroke-width="2.6" stroke-dasharray="8 5 2.2 5.1" d="M103.5 290.9 L105.5 290.7 L107.5 290.2 L109.5 289.8 L111.5 289.4 L113.5 289.2 L115.5 288.9 L117.5 288.3 L119.5 288.2 L121.5 288.3 L123.5 288.0 L125.5 287.9 L127.5 288.3 L129.5 288.4 L131.5 288.6 L133.5 288.9 L135.5 288.9 L137.5 289.3 L139.5 289.7 L141.5 290.0 L143.5 289.8 L145.5 290.6 L147.5 291.0 L149.5 291.4 L151.5 291.5 L153.5 291.9 L155.5 291.8 L157.5 292.2 L159.5 292.2 L161.5 293.3 L163.5 294.2 L165.5 294.6 L167.5 294.2 L169.5 295.1 L171.5 295.6 L173.5 295.6 L175.5 295.6 L177.5 296.8 L179.5 296.8 L181.5 297.2 L183.5 298.1 L185.5 298.2 L187.5 298.7 L189.5 299.3 L191.5 299.3 L193.5 299.4 L195.5 300.3 L197.5 300.5 L199.5 301.1 L201.5 301.4 L203.5 301.4 L205.5 302.0 L207.5 302.2 L209.5 302.6 L211.5 303.0 L213.5 303.5 L215.5 303.8 L217.5 303.7 L219.5 304.5 L221.5 304.3 L223.5 305.4 L225.5 304.8 L227.5 305.1 L229.5 305.5 L231.5 305.2 L233.5 304.9 L235.5 305.0 L237.5 305.4 L239.5 305.5 L241.5 305.6 L243.5 305.5 L245.5 305.4 L247.5 305.7 L249.5 306.0 L251.5 305.6 L253.5 306.7 L255.5 305.8 L257.5 306.4 L259.5 306.6 L261.5 306.5 L263.5 306.5 L265.5 306.7 L267.5 306.9 L269.5 306.0 L271.5 306.9 L273.5 306.7 L275.5 306.7 L277.5 307.0 L279.5 307.1 L281.5 307.3 L283.5 307.1 L285.5 307.6 L287.5 306.9 L289.5 307.3 L291.5 307.4 L293.5 307.9 L295.5 308.0 L297.5 308.5 L299.5 308.5 L301.5 309.3 L303.5 309.5 L305.5 309.5 L307.5 309.6 L309.5 310.0 L311.5 310.3 L313.5 311.4 L315.5 311.7 L317.5 311.6 L319.5 312.8 L321.5 312.7 L323.5 312.7 L325.5 313.9 L327.5 314.3 L329.5 314.3 L331.5 314.4 L333.5 315.2 L335.5 315.0 L337.5 315.3 L339.5 315.7 L341.5 315.9 L343.5 315.9 L345.5 315.9 L347.5 316.6 L349.5 316.0 L351.5 316.8 L353.5 317.0 L355.5 317.2 L357.5 317.2 L359.5 317.5 L361.5 317.8 L363.5 317.5 L365.5 317.9 L367.5 318.1 L369.5 317.8 L371.5 318.1 L373.5 318.8 L375.5 318.8 L377.5 318.5 L379.5 319.0 L381.5 319.1 L383.5 319.4 L385.5 319.5 L387.5 318.8 L389.5 319.5 L391.5 320.1 L393.5 320.4 L395.5 320.1 L397.5 320.2 L399.5 320.8 L401.5 320.9 L403.5 321.4 L405.5 321.4 L407.5 322.2 L409.5 322.5 L411.5 322.7 L413.5 322.7 L415.5 322.9 L417.5 323.3 L419.5 324.1 L421.5 323.8 L423.5 324.8 L425.5 325.4 L427.5 325.1 L429.5 325.5 L431.5 326.1 L433.5 326.4 L435.5 326.4 L437.5 326.7 L439.5 327.0 L441.5 327.0 L443.5 327.4 L445.5 327.4 L447.5 327.8 L449.5 327.1 L451.5 327.9 L453.5 327.9 L455.5 327.7 L457.5 328.0 L459.5 328.2 L461.5 328.2 L463.5 328.2 L465.5 328.5 L467.5 328.5 L469.5 328.5 L471.5 328.9 L473.5 329.1 L475.5 329.6 L477.5 329.9 L479.5 330.0 L481.5 330.5 L483.5 330.3 L485.5 330.4 L487.5 330.6 L489.5 330.8 L491.5 331.2 L493.5 331.8 L495.5 331.3 L497.5 332.0 L499.5 332.0 L501.5 332.3 L503.5 332.1 L505.5 332.5 L507.5 332.3 L509.5 332.7 L511.5 332.2 L513.5 332.9 L515.5 333.0 L517.5 332.5 L519.5 333.2 L521.5 332.8 L523.5 333.4 L525.5 333.2 L527.5 333.4 L529.5 333.4 L531.5 333.1 L533.5 333.8 L535.5 333.8 L537.5 333.3 L539.5 333.7 L541.5 333.8 L543.5 333.5 L545.5 333.5 L547.5 334.1 L549.5 333.7 L551.5 334.1 L553.5 334.4 L555.5 334.1 L557.5 333.8 L559.5 334.3 L561.5 333.7 L563.5 333.8 L565.5 334.8 L567.5 333.9 L569.5 334.2 L571.5 333.9 L573.5 334.2 L575.5 334.3 L577.5 333.6 L579.5 334.1 L581.5 334.4 L583.5 334.4 L585.5 334.2 L587.5 333.9 L589.5 334.1 L591.5 333.8 L593.5 333.7 L595.5 333.8 L597.5 334.3 L599.5 333.4 L601.5 333.8 L603.5 333.5 L605.5 333.0 L607.5 333.0 L609.5 333.1 L611.5 332.9 L613.5 332.9 L615.5 332.5 L617.5 332.3 L619.5 332.7 L621.5 332.3 L623.5 331.9 L625.5 331.9 L627.5 332.2 L629.5 331.4 L631.5 331.0 L633.5 331.4 L635.5 331.4 L637.5 331.0 L639.5 330.1 L641.5 329.7 L643.5 330.4 L645.5 329.8 L647.5 329.7 L649.5 329.3 L651.5 329.6 L653.5 328.9 L655.5 328.6 L657.5 328.4 L659.5 327.8 L661.5 327.8 L663.5 327.4 L665.5 326.6 L667.5 326.4 L669.5 326.0 L671.5 325.5 L673.5 325.6 L675.5 325.3 L677.5 324.7 L679.5 323.8 L681.5 323.2 L683.5 323.3 L685.5 322.5 L687.5 322.0 L689.5 321.1 L691.5 320.3 L693.5 320.7 L695.5 319.3 L697.5 318.7 L699.5 317.7 L701.5 317.7 L703.5 316.5 L705.5 315.8 L707.5 315.2 L709.5 314.5 L711.5 314.1 L713.5 312.6 L715.5 312.4 L717.5 311.4 L719.5 310.7 L721.5 309.8 L723.5 309.3 L725.5 308.1 L727.5 307.4 L729.5 306.9 L731.5 305.7 L733.5 304.9 L735.5 304.2 L737.5 303.2 L739.5 302.1 L741.5 301.3 L743.5 300.0 L745.5 299.4 L747.5 297.9 L749.5 296.6 L751.5 296.0 L753.5 294.3 L755.5 293.2 L757.5 292.2 L759.5 291.1 L761.5 289.5 L763.5 288.2 L765.5 286.9 L767.5 285.7 L769.5 284.0 L771.5 282.8 L773.5 281.5 L775.5 279.6 L777.5 278.1 L779.5 276.3 L781.5 274.8 L783.5 273.1 L785.5 271.5 L787.5 270.0 L789.5 268.5 L791.5 266.8 L793.5 264.9 L795.5 263.3 L797.5 261.1 L799.5 260.1 L800.8 259.5"/>
<path fill="none" stroke="#000" stroke-width="2.7" stroke-dasharray="9.2 9.4" d="M103.5 413.0 L105.5 412.5 L107.5 412.5 L109.5 412.4 L111.5 412.4 L113.5 412.1 L115.5 411.9 L117.5 412.2 L119.5 411.8 L121.5 411.9 L123.5 411.6 L125.5 411.6 L127.5 411.7 L129.5 411.7 L131.5 411.4 L133.5 411.2 L135.5 411.3 L137.5 411.0 L139.5 410.8 L141.5 410.9 L143.5 410.5 L145.5 410.8 L147.5 410.5 L149.5 410.5 L151.5 410.1 L153.5 410.1 L155.5 410.2 L157.5 410.2 L159.5 410.0 L161.5 409.8 L163.5 409.4 L165.5 409.5 L167.5 409.4 L169.5 409.2 L171.5 409.3 L173.5 408.8 L175.5 409.1 L177.5 408.6 L179.5 408.5 L181.5 408.5 L183.5 408.2 L185.5 408.2 L187.5 408.2 L189.5 407.8 L191.5 407.8 L193.5 407.6 L195.5 407.7 L197.5 407.8 L199.5 407.5 L201.5 407.4 L203.5 407.4 L205.5 407.1 L207.5 407.2 L209.5 407.0 L211.5 406.8 L213.5 406.6 L215.5 406.7 L217.5 406.8 L219.5 406.8 L221.5 406.5 L223.5 406.5 L225.5 406.3 L227.5 406.2 L229.5 406.0 L231.5 406.5 L233.5 406.0 L235.5 406.1 L237.5 406.3 L239.5 405.9 L241.5 405.9 L243.5 405.9 L245.5 405.8 L247.5 405.8 L249.5 405.7 L251.5 405.8 L253.5 405.7 L255.5 405.4 L257.5 405.3 L259.5 405.3 L261.5 405.3 L263.5 405.2 L265.5 405.4 L267.5 405.0 L269.5 405.0 L271.5 405.0 L273.5 404.6 L275.5 404.9 L277.5 404.8 L279.5 404.8 L281.5 404.4 L283.5 404.3 L285.5 404.3 L287.5 404.1 L289.5 403.9 L291.5 404.1 L293.5 403.9 L295.5 403.9 L297.5 403.5 L299.5 403.8 L301.5 403.5 L303.5 403.3 L305.5 403.5 L307.5 403.4 L309.5 403.1 L311.5 403.3 L313.5 403.3 L315.5 403.0 L317.5 402.7 L319.5 402.9 L321.5 402.9 L323.5 402.5 L325.5 402.8 L327.5 402.5 L329.5 402.4 L331.5 402.5 L333.5 402.3 L335.5 402.4 L337.5 402.1 L339.5 402.1 L341.5 401.9 L343.5 401.9 L345.5 401.9 L347.5 401.8 L349.5 401.6 L351.5 401.6 L353.5 401.4 L355.5 401.5 L357.5 401.3 L359.5 401.1 L361.5 401.0 L363.5 401.0 L365.5 401.1 L367.5 400.9 L369.5 400.9 L371.5 400.7 L373.5 400.6 L375.5 400.4 L377.5 400.2 L379.5 400.5 L381.5 400.4 L383.5 400.3 L385.5 400.4 L387.5 400.0 L389.5 400.4 L391.5 399.9 L393.5 400.1 L395.5 399.8 L397.5 399.9 L399.5 400.1 L401.5 399.6 L403.5 399.8 L405.5 399.8 L407.5 399.7 L409.5 399.7 L411.5 399.7 L413.5 399.7 L415.5 399.6 L417.5 399.7 L419.5 399.6 L421.5 399.5 L423.5 399.3 L425.5 399.6 L427.5 399.4 L429.5 399.8 L431.5 399.4 L433.5 399.4 L435.5 399.7 L437.5 399.5 L439.5 399.4 L441.5 399.8 L443.5 399.5 L445.5 399.9 L447.5 399.6 L449.5 399.9 L451.5 399.9 L453.5 399.6 L455.5 399.9 L457.5 399.9 L459.5 400.0 L461.5 400.1 L463.5 400.3 L465.5 400.0 L467.5 400.1 L469.5 400.4 L471.5 400.3 L473.5 400.3 L475.5 400.0 L477.5 400.0 L479.5 400.2 L481.5 400.2 L483.5 400.4 L485.5 400.7 L487.5 400.2 L489.5 400.3 L491.5 400.5 L493.5 400.5 L495.5 400.7 L497.5 400.5 L499.5 400.5 L501.5 400.9 L503.5 400.8 L505.5 400.6 L507.5 400.8 L509.5 400.9 L511.5 400.8 L513.5 401.2 L515.5 401.2 L517.5 401.2 L519.5 401.3 L521.5 401.7 L523.5 401.5 L525.5 401.5 L527.5 401.4 L529.5 401.6 L531.5 401.9 L533.5 402.1 L535.5 401.8 L537.5 401.8 L539.5 402.2 L541.5 402.3 L543.5 402.5 L545.5 402.4 L547.5 402.6 L549.5 402.5 L551.5 402.7 L553.5 403.0 L555.5 403.1 L557.5 403.5 L559.5 403.7 L561.5 403.5 L563.5 404.2 L565.5 404.0 L567.5 404.3 L569.5 404.8 L571.5 404.5 L573.5 404.9 L575.5 405.2 L577.5 405.7 L579.5 406.1 L581.5 406.3 L583.5 406.3 L585.5 406.8 L587.5 406.9 L589.5 407.5 L591.5 407.4 L593.5 407.9 L595.5 407.8 L597.5 408.3 L599.5 408.2 L601.5 408.7 L603.5 408.7 L605.5 409.2 L607.5 409.3 L609.5 409.6 L611.5 410.0 L613.5 410.4 L615.5 410.6 L617.5 411.0 L619.5 411.4 L621.5 411.8 L623.5 412.1 L625.5 412.3 L627.5 412.9 L629.5 412.8 L631.5 413.4 L633.5 413.4 L635.5 414.3 L637.5 414.2 L639.5 414.6 L641.5 415.2 L643.5 415.3 L645.5 415.6 L647.5 415.8 L649.5 416.5 L651.5 417.2 L653.5 417.4 L655.5 418.1 L657.5 418.4 L659.5 418.7 L661.5 419.1 L663.5 419.8 L665.5 420.5 L667.5 420.9 L669.5 421.5 L671.5 422.1 L673.5 422.5 L675.5 423.0 L677.5 423.7 L679.5 424.5 L681.5 424.9 L683.5 425.5 L685.5 426.1 L687.5 426.8 L689.5 427.4 L691.5 428.0 L693.5 428.4 L695.5 429.2 L697.5 429.6 L699.5 430.1 L701.5 430.6 L703.5 431.3 L705.5 431.9 L707.5 432.7 L709.5 433.3 L711.5 433.9 L713.5 434.5 L715.5 435.0 L717.5 435.9 L719.5 436.6 L721.5 437.2 L723.5 437.7 L725.5 438.5 L727.5 439.2 L729.5 439.9 L731.5 440.8 L733.5 441.4 L735.5 442.2 L737.5 443.4 L739.5 444.2 L741.5 445.1 L743.5 445.7 L745.5 446.6 L747.5 447.4 L749.5 448.1 L751.5 448.6 L753.5 450.0 L755.5 450.7 L757.5 451.4 L759.5 452.1 L761.5 452.8 L763.5 453.8 L765.5 454.7 L767.5 455.4 L769.5 456.5 L771.5 457.6 L773.5 458.7 L775.5 459.6 L777.5 460.5 L779.5 461.4 L781.5 463.0 L783.5 463.7 L785.5 464.9 L787.5 465.9 L789.5 466.9 L791.5 468.5 L793.5 469.5 L795.5 470.8 L797.5 471.7 L799.5 473.0 L800.8 473.9"/>
</g>
<line x1="103.5" x2="799.5" y1="363.0" y2="363.0" stroke="#000" stroke-width="2"/>
<line stroke="#000" stroke-width="0.85" x1="155.4" y1="263.6" x2="132.6" y2="339.4"/>
<line stroke="#000" stroke-width="0.85" x1="132.6" y1="378.6" x2="155" y2="445"/>
<line stroke="#000" stroke-width="0.85" x1="712" y1="214" x2="729.6" y2="280"/>
<line stroke="#000" stroke-width="0.85" x1="729.6" y1="415.4" x2="712.2" y2="487.6"/>
<path d="M56.23 37.12 L56.23 36.29 L57.05 34.64 L57.86 33.82 L59.49 33.00 L62.75 33.00 L64.38 33.82 L65.20 34.64 L66.01 36.29 L66.01 37.94 L65.20 39.59 L63.56 42.06 L55.41 50.30 L66.83 50.30 M73.90 48.65 L73.09 49.48 L73.90 50.30 L74.72 49.48 L73.90 48.65 M85.87 33.00 L83.42 33.82 L81.79 36.29 L80.97 40.41 L80.97 42.88 L81.79 47.00 L83.42 49.48 L85.87 50.30 L87.50 50.30 L89.94 49.48 L91.57 47.00 L92.38 42.88 L92.38 40.41 L91.57 36.29 L89.94 33.82 L87.50 33.00 L85.87 33.00" fill="none" stroke="#2b2b2b" stroke-width="1.15" stroke-linecap="round" stroke-linejoin="round"/>
<text class="t" x="52.6" y="50.3" font-size="20">2.0</text>
<path d="M57.86 94.64 L59.49 93.81 L61.94 91.34 L61.94 108.65 M73.90 107.00 L73.09 107.82 L73.90 108.65 L74.72 107.82 L73.90 107.00 M85.05 91.34 L82.61 92.17 L81.79 93.81 L81.79 95.46 L82.61 97.11 L84.23 97.93 L87.50 98.76 L89.94 99.58 L91.57 101.23 L92.38 102.88 L92.38 105.35 L91.57 107.00 L90.75 107.82 L88.31 108.65 L85.05 108.65 L82.61 107.82 L81.79 107.00 L80.97 105.35 L80.97 102.88 L81.79 101.23 L83.42 99.58 L85.87 98.76 L89.12 97.93 L90.75 97.11 L91.57 95.46 L91.57 93.81 L90.75 92.17 L88.31 91.34 L85.05 91.34" fill="none" stroke="#2b2b2b" stroke-width="1.15" stroke-linecap="round" stroke-linejoin="round"/>
<text class="t" x="52.6" y="108.6" font-size="20">1.8</text>
<path d="M57.86 160.59 L59.49 159.76 L61.94 157.29 L61.94 174.59 M73.90 172.95 L73.09 173.77 L73.90 174.59 L74.72 173.77 L73.90 172.95 M91.57 159.76 L90.75 158.11 L88.31 157.29 L86.68 157.29 L84.23 158.11 L82.61 160.59 L81.79 164.71 L81.79 168.83 L82.61 172.12 L84.23 173.77 L86.68 174.59 L87.50 174.59 L89.94 173.77 L91.57 172.12 L92.38 169.65 L92.38 168.83 L91.57 166.35 L89.94 164.71 L87.50 163.88 L86.68 163.88 L84.23 164.71 L82.61 166.35 L81.79 168.83" fill="none" stroke="#2b2b2b" stroke-width="1.15" stroke-linecap="round" stroke-linejoin="round"/>
<text class="t" x="52.6" y="174.6" font-size="20">1.6</text>
<path d="M57.86 226.53 L59.49 225.71 L61.94 223.24 L61.94 240.54 M73.90 238.89 L73.09 239.72 L73.90 240.54 L74.72 239.72 L73.90 238.89 M89.12 223.24 L80.97 234.77 L93.20 234.77 M89.12 223.24 L89.12 240.54" fill="none" stroke="#2b2b2b" stroke-width="1.15" stroke-linecap="round" stroke-linejoin="round"/>
<text class="t" x="52.6" y="240.5" font-size="20">1.4</text>
<path d="M57.86 292.48 L59.49 291.65 L61.94 289.18 L61.94 306.49 M73.90 304.84 L73.09 305.66 L73.90 306.49 L74.72 305.66 L73.90 304.84 M81.79 293.30 L81.79 292.48 L82.61 290.83 L83.42 290.01 L85.05 289.18 L88.31 289.18 L89.94 290.01 L90.75 290.83 L91.57 292.48 L91.57 294.13 L90.75 295.77 L89.12 298.25 L80.97 306.49 L92.38 306.49" fill="none" stroke="#2b2b2b" stroke-width="1.15" stroke-linecap="round" stroke-linejoin="round"/>
<text class="t" x="52.6" y="306.5" font-size="20">1.2</text>
<path d="M57.86 358.43 L59.49 357.60 L61.94 355.13 L61.94 372.43 M73.90 370.79 L73.09 371.61 L73.90 372.43 L74.72 371.61 L73.90 370.79 M85.87 355.13 L83.42 355.95 L81.79 358.43 L80.97 362.55 L80.97 365.02 L81.79 369.14 L83.42 371.61 L85.87 372.43 L87.50 372.43 L89.94 371.61 L91.57 369.14 L92.38 365.02 L92.38 362.55 L91.57 358.43 L89.94 355.95 L87.50 355.13 L85.87 355.13" fill="none" stroke="#2b2b2b" stroke-width="1.15" stroke-linecap="round" stroke-linejoin="round"/>
<text class="t" x="52.6" y="372.4" font-size="20">1.0</text>
<path d="M60.30 421.08 L57.86 421.90 L56.23 424.37 L55.41 428.49 L55.41 430.96 L56.23 435.08 L57.86 437.56 L60.30 438.38 L61.94 438.38 L64.38 437.56 L66.01 435.08 L66.83 430.96 L66.83 428.49 L66.01 424.37 L64.38 421.90 L61.94 421.08 L60.30 421.08 M73.90 436.73 L73.09 437.56 L73.90 438.38 L74.72 437.56 L73.90 436.73 M85.05 421.08 L82.61 421.90 L81.79 423.55 L81.79 425.20 L82.61 426.84 L84.23 427.67 L87.50 428.49 L89.94 429.32 L91.57 430.96 L92.38 432.61 L92.38 435.08 L91.57 436.73 L90.75 437.56 L88.31 438.38 L85.05 438.38 L82.61 437.56 L81.79 436.73 L80.97 435.08 L80.97 432.61 L81.79 430.96 L83.42 429.32 L85.87 428.49 L89.12 427.67 L90.75 426.84 L91.57 425.20 L91.57 423.55 L90.75 421.90 L88.31 421.08 L85.05 421.08" fill="none" stroke="#2b2b2b" stroke-width="1.15" stroke-linecap="round" stroke-linejoin="round"/>
<text class="t" x="52.6" y="438.4" font-size="20">0.8</text>
<path d="M60.30 487.02 L57.86 487.85 L56.23 490.32 L55.41 494.44 L55.41 496.91 L56.23 501.03 L57.86 503.50 L60.30 504.33 L61.94 504.33 L64.38 503.50 L66.01 501.03 L66.83 496.91 L66.83 494.44 L66.01 490.32 L64.38 487.85 L61.94 487.02 L60.30 487.02 M73.90 502.68 L73.09 503.50 L73.90 504.33 L74.72 503.50 L73.90 502.68 M91.57 489.49 L90.75 487.85 L88.31 487.02 L86.68 487.02 L84.23 487.85 L82.61 490.32 L81.79 494.44 L81.79 498.56 L82.61 501.85 L84.23 503.50 L86.68 504.33 L87.50 504.33 L89.94 503.50 L91.57 501.85 L92.38 499.38 L92.38 498.56 L91.57 496.09 L89.94 494.44 L87.50 493.61 L86.68 493.61 L84.23 494.44 L82.61 496.09 L81.79 498.56" fill="none" stroke="#2b2b2b" stroke-width="1.15" stroke-linecap="round" stroke-linejoin="round"/>
<text class="t" x="52.6" y="504.3" font-size="20">0.6</text>
<path d="M211.01 547.70 L208.57 548.52 L206.94 550.99 L206.12 555.11 L206.12 557.58 L206.94 561.70 L208.57 564.18 L211.01 565.00 L212.64 565.00 L215.09 564.18 L216.72 561.70 L217.53 557.58 L217.53 555.11 L216.72 550.99 L215.09 548.52 L212.64 547.70 L211.01 547.70 M224.61 563.35 L223.79 564.18 L224.61 565.00 L225.42 564.18 L224.61 563.35 M234.13 550.99 L235.76 550.17 L238.20 547.70 L238.20 565.00" fill="none" stroke="#444" stroke-width="0.95" stroke-linecap="round" stroke-linejoin="round"/>
<text class="t" x="203.5" y="565" font-size="20">0.1</text>
<path d="M440.57 550.99 L442.20 550.17 L444.64 547.70 L444.64 565.00 M456.61 563.35 L455.79 564.18 L456.61 565.00 L457.42 564.18 L456.61 563.35 M468.57 547.70 L466.13 548.52 L464.50 550.99 L463.68 555.11 L463.68 557.58 L464.50 561.70 L466.13 564.18 L468.57 565.00 L470.20 565.00 L472.65 564.18 L474.28 561.70 L475.09 557.58 L475.09 555.11 L474.28 550.99 L472.65 548.52 L470.20 547.70 L468.57 547.70" fill="none" stroke="#444" stroke-width="0.95" stroke-linecap="round" stroke-linejoin="round"/>
<text class="t" x="435.5" y="565" font-size="20">1.0</text>
<path d="M664.05 550.99 L665.68 550.17 L668.12 547.70 L668.12 565.00 M683.53 547.70 L681.09 548.52 L679.46 550.99 L678.64 555.11 L678.64 557.58 L679.46 561.70 L681.09 564.18 L683.53 565.00 L685.16 565.00 L687.61 564.18 L689.24 561.70 L690.05 557.58 L690.05 555.11 L689.24 550.99 L687.61 548.52 L685.16 547.70 L683.53 547.70 M697.13 563.35 L696.31 564.18 L697.13 565.00 L697.94 564.18 L697.13 563.35 M709.09 547.70 L706.65 548.52 L705.02 550.99 L704.20 555.11 L704.20 557.58 L705.02 561.70 L706.65 564.18 L709.09 565.00 L710.72 565.00 L713.17 564.18 L714.80 561.70 L715.61 557.58 L715.61 555.11 L714.80 550.99 L713.17 548.52 L710.72 547.70 L709.09 547.70" fill="none" stroke="#444" stroke-width="0.95" stroke-linecap="round" stroke-linejoin="round"/>
<text class="t" x="659.0" y="565" font-size="20">10.0</text>
<path d="M19.06 416.80 L30.60 416.80 M22.36 416.80 L19.89 414.36 L19.06 412.73 L19.06 410.28 L19.89 408.65 L22.36 407.84 L30.60 407.84 M19.06 400.84 L27.30 400.84 L29.78 400.03 L30.60 398.40 L30.60 395.95 L29.78 394.32 L27.30 391.88 M19.06 391.88 L30.60 391.88 M19.06 384.75 L30.60 384.75 M22.36 384.75 L19.89 382.30 L19.06 380.67 L19.06 378.23 L19.89 376.60 L22.36 375.78 L30.60 375.78 M22.36 375.78 L19.89 373.34 L19.06 371.71 L19.06 369.26 L19.89 367.63 L22.36 366.81 L30.60 366.81 M13.30 359.68 L30.60 359.68 M21.54 359.68 L19.89 358.05 L19.06 356.42 L19.06 353.98 L19.89 352.35 L21.54 350.72 L24.01 349.90 L25.66 349.90 L28.13 350.72 L29.78 352.35 L30.60 353.98 L30.60 356.42 L29.78 358.05 L28.13 359.68 M24.01 344.55 L24.01 334.77 L22.36 334.77 L20.71 335.59 L19.89 336.40 L19.06 338.03 L19.06 340.48 L19.89 342.11 L21.54 343.74 L24.01 344.55 L25.66 344.55 L28.13 343.74 L29.78 342.11 L30.60 340.48 L30.60 338.03 L29.78 336.40 L28.13 334.77 M19.06 328.68 L30.60 328.68 M24.01 328.68 L21.54 327.86 L19.89 326.23 L19.06 324.60 L19.06 322.16 M13.30 295.28 L30.60 295.28 M21.54 295.28 L19.89 296.91 L19.06 298.54 L19.06 300.98 L19.89 302.61 L21.54 304.24 L24.01 305.06 L25.66 305.06 L28.13 304.24 L29.78 302.61 L30.60 300.98 L30.60 298.54 L29.78 296.91 L28.13 295.28 M24.01 289.11 L24.01 279.33 L22.36 279.33 L20.71 280.14 L19.89 280.96 L19.06 282.59 L19.06 285.03 L19.89 286.67 L21.54 288.30 L24.01 289.11 L25.66 289.11 L28.13 288.30 L29.78 286.67 L30.60 285.03 L30.60 282.59 L29.78 280.96 L28.13 279.33 M19.06 273.16 L30.60 273.16 M22.36 273.16 L19.89 270.72 L19.06 269.09 L19.06 266.64 L19.89 265.01 L22.36 264.20 L30.60 264.20 M21.54 249.08 L19.89 249.89 L19.06 252.34 L19.06 254.78 L19.89 257.23 L21.54 258.04 L23.18 257.23 L24.01 255.60 L24.83 251.52 L25.66 249.89 L27.30 249.08 L28.13 249.08 L29.78 249.89 L30.60 252.34 L30.60 254.78 L29.78 257.23 L28.13 258.04 M13.30 243.87 L14.12 243.06 L13.30 242.24 L12.47 243.06 L13.30 243.87 M19.06 243.06 L30.60 243.06 M13.30 235.47 L27.30 235.47 L29.78 234.66 L30.60 233.03 L30.60 231.40 M19.06 237.92 L19.06 232.21 M19.06 227.79 L30.60 222.90 M19.06 218.01 L30.60 222.90 L33.90 224.53 L35.54 226.16 L36.37 227.79 L36.37 228.60 M19.06 199.32 L30.60 199.32 M24.01 199.32 L21.54 198.50 L19.89 196.87 L19.06 195.24 L19.06 192.80 M19.06 179.36 L30.60 179.36 M21.54 179.36 L19.89 180.99 L19.06 182.62 L19.06 185.06 L19.89 186.69 L21.54 188.32 L24.01 189.14 L25.66 189.14 L28.13 188.32 L29.78 186.69 L30.60 185.06 L30.60 182.62 L29.78 180.99 L28.13 179.36 M13.30 171.63 L27.30 171.63 L29.78 170.82 L30.60 169.19 L30.60 167.56 M19.06 174.08 L19.06 168.37 M13.30 163.23 L14.12 162.42 L13.30 161.60 L12.47 162.42 L13.30 163.23 M19.06 162.42 L30.60 162.42 M19.06 152.30 L19.89 153.93 L21.54 155.56 L24.01 156.38 L25.66 156.38 L28.13 155.56 L29.78 153.93 L30.60 152.30 L30.60 149.86 L29.78 148.23 L28.13 146.60 L25.66 145.78 L24.01 145.78 L21.54 146.60 L19.89 148.23 L19.06 149.86 L19.06 152.30" fill="none" stroke="#2b2b2b" stroke-width="1.15" stroke-linecap="round" stroke-linejoin="round"/>
<text class="t" transform="translate(30.5,422.8) rotate(-90)" font-size="20">number density ratio</text>
<path d="M285.25 586.94 L283.62 585.29 L281.99 584.46 L279.54 584.46 L277.91 585.29 L276.28 586.94 L275.47 589.41 L275.47 591.06 L276.28 593.53 L277.91 595.18 L279.54 596.00 L281.99 596.00 L283.62 595.18 L285.25 593.53 M291.32 578.70 L291.32 596.00 M298.22 584.46 L298.22 592.70 L299.03 595.18 L300.66 596.00 L303.11 596.00 L304.74 595.18 L307.18 592.70 M307.18 584.46 L307.18 596.00 M322.35 586.94 L321.54 585.29 L319.09 584.46 L316.65 584.46 L314.20 585.29 L313.39 586.94 L314.20 588.58 L315.83 589.41 L319.91 590.23 L321.54 591.06 L322.35 592.70 L322.35 593.53 L321.54 595.18 L319.09 596.00 L316.65 596.00 L314.20 595.18 L313.39 593.53 M329.28 578.70 L329.28 592.70 L330.10 595.18 L331.73 596.00 L333.36 596.00 M326.84 584.46 L332.54 584.46 M337.85 589.41 L347.63 589.41 L347.63 587.76 L346.82 586.11 L346.00 585.29 L344.37 584.46 L341.93 584.46 L340.30 585.29 L338.67 586.94 L337.85 589.41 L337.85 591.06 L338.67 593.53 L340.30 595.18 L341.93 596.00 L344.37 596.00 L346.00 595.18 L347.63 593.53 M353.77 584.46 L353.77 596.00 M353.77 589.41 L354.58 586.94 L356.21 585.29 L357.84 584.46 L360.29 584.46 M378.45 584.46 L378.45 596.00 M378.45 587.76 L380.90 585.29 L382.53 584.46 L384.97 584.46 L386.60 585.29 L387.42 587.76 L387.42 596.00 M387.42 587.76 L389.86 585.29 L391.49 584.46 L393.94 584.46 L395.57 585.29 L396.38 587.76 L396.38 596.00 M412.56 584.46 L412.56 596.00 M412.56 586.94 L410.93 585.29 L409.30 584.46 L406.85 584.46 L405.22 585.29 L403.59 586.94 L402.77 589.41 L402.77 591.06 L403.59 593.53 L405.22 595.18 L406.85 596.00 L409.30 596.00 L410.93 595.18 L412.56 593.53 M427.73 586.94 L426.91 585.29 L424.47 584.46 L422.02 584.46 L419.58 585.29 L418.76 586.94 L419.58 588.58 L421.21 589.41 L425.28 590.23 L426.91 591.06 L427.73 592.70 L427.73 593.53 L426.91 595.18 L424.47 596.00 L422.02 596.00 L419.58 595.18 L418.76 593.53 M442.06 586.94 L441.25 585.29 L438.80 584.46 L436.36 584.46 L433.91 585.29 L433.10 586.94 L433.91 588.58 L435.54 589.41 L439.62 590.23 L441.25 591.06 L442.06 592.70 L442.06 593.53 L441.25 595.18 L438.80 596.00 L436.36 596.00 L433.91 595.18 L433.10 593.53" fill="none" stroke="#2b2b2b" stroke-width="1.15" stroke-linecap="round" stroke-linejoin="round"/>
<path d="M459.66 575.40 L459.66 601.77 M460.47 575.40 L460.47 601.77 M459.66 575.40 L465.36 575.40 M459.66 601.77 L465.36 601.77" fill="none" stroke="#2b2b2b" stroke-width="1.15" stroke-linecap="round" stroke-linejoin="round"/>
<path d="M472.24 581.99 L473.87 581.17 L476.31 578.70 L476.31 596.00 M491.28 578.70 L488.84 579.52 L487.21 581.99 L486.39 586.11 L486.39 588.58 L487.21 592.70 L488.84 595.18 L491.28 596.00 L492.91 596.00 L495.36 595.18 L496.99 592.70 L497.81 588.58 L497.81 586.11 L496.99 581.99 L495.36 579.52 L492.91 578.70 L491.28 578.70" fill="none" stroke="#2b2b2b" stroke-width="1.15" stroke-linecap="round" stroke-linejoin="round"/>
<path d="M503.77 578.88 L504.46 578.55 L505.50 577.57 L505.50 584.40 M513.09 577.57 L509.63 582.12 L514.81 582.12 M513.09 577.57 L513.09 584.40" fill="none" stroke="#2b2b2b" stroke-width="1.05" stroke-linecap="round" stroke-linejoin="round"/>
<path d="M530.96 578.70 L530.96 596.00 M530.96 587.76 L533.41 585.29 L535.04 584.46 L537.48 584.46 L539.11 585.29 L539.93 587.76 L539.93 596.00" fill="none" stroke="#2b2b2b" stroke-width="1.15" stroke-linecap="round" stroke-linejoin="round"/>
<path d="M551.57 593.17 L548.12 600.00 M546.74 593.17 L551.57 593.17 M555.71 593.17 L554.67 593.50 L553.98 594.48 L553.63 596.10 L553.63 597.08 L553.98 598.70 L554.67 599.67 L555.71 600.00 L556.40 600.00 L557.43 599.67 L558.12 598.70 L558.47 597.08 L558.47 596.10 L558.12 594.48 L557.43 593.50 L556.40 593.17 L555.71 593.17" fill="none" stroke="#2b2b2b" stroke-width="1.05" stroke-linecap="round" stroke-linejoin="round"/>
<path d="M561.38 581.48 L567.59 581.48 M571.04 578.88 L571.73 578.55 L572.76 577.57 L572.76 584.40" fill="none" stroke="#2b2b2b" stroke-width="1.05" stroke-linecap="round" stroke-linejoin="round"/>
<path d="M591.56 578.70 L591.56 596.00 M591.56 578.70 L598.08 596.00 M604.60 578.70 L598.08 596.00 M604.60 578.70 L604.60 596.00" fill="none" stroke="#2b2b2b" stroke-width="1.15" stroke-linecap="round" stroke-linejoin="round"/>
<path d="M613.54 596.26 L613.18 595.58 L612.10 595.24 L611.02 595.24 L609.94 595.58 L609.58 596.26 L609.94 596.94 L610.66 597.28 L612.46 597.62 L613.18 597.96 L613.54 598.64 L613.54 598.98 L613.18 599.66 L612.10 600.00 L611.02 600.00 L609.94 599.66 L609.58 598.98 M616.28 595.24 L616.28 598.64 L616.64 599.66 L617.36 600.00 L618.44 600.00 L619.16 599.66 L620.24 598.64 M620.24 595.24 L620.24 600.00 M623.35 595.24 L623.35 600.00 M623.35 596.60 L624.43 595.58 L625.15 595.24 L626.23 595.24 L626.95 595.58 L627.31 596.60 L627.31 600.00" fill="none" stroke="#2b2b2b" stroke-width="1.05" stroke-linecap="round" stroke-linejoin="round"/>
<path d="M635.84 575.40 L635.84 601.77 M636.65 575.40 L636.65 601.77 M630.95 575.40 L636.65 575.40 M630.95 601.77 L636.65 601.77" fill="none" stroke="#2b2b2b" stroke-width="1.15" stroke-linecap="round" stroke-linejoin="round"/>
<text class="t" x="275" y="596" font-size="20">cluster mass [10<tspan dy="-8" font-size="10">14</tspan><tspan dy="8"> h</tspan><tspan dy="4" font-size="10">70</tspan><tspan dy="-12" font-size="10">-1</tspan><tspan dy="8"> M</tspan><tspan dy="4" font-size="10">sun</tspan><tspan dy="-4">]</tspan></text>
<path d="M717.61 182.31 L717.61 197.50 M717.61 185.56 L715.27 183.40 L712.94 182.31 L709.44 182.31 L707.10 183.40 L704.77 185.56 L703.60 188.82 L703.60 190.99 L704.77 194.25 L707.10 196.41 L709.44 197.50 L712.94 197.50 L715.27 196.41 L717.61 194.25" fill="none" stroke="#444" stroke-width="1.3" stroke-linecap="round" stroke-linejoin="round"/>
<text class="t" x="703.1" y="197.5" font-size="28">a</text>
<path d="M704.57 488.61 L704.57 511.40 M704.57 499.46 L706.90 497.29 L709.24 496.21 L712.74 496.21 L715.07 497.29 L717.40 499.46 L718.57 502.72 L718.57 504.89 L717.40 508.14 L715.07 510.31 L712.74 511.40 L709.24 511.40 L706.90 510.31 L704.57 508.14" fill="none" stroke="#444" stroke-width="1.3" stroke-linecap="round" stroke-linejoin="round"/>
<text class="t" x="702.9" y="511.4" font-size="28">b</text>
<path d="M170.31 459.17 L167.97 457.00 L165.64 455.91 L162.14 455.91 L159.80 457.00 L157.47 459.17 L156.30 462.42 L156.30 464.59 L157.47 467.85 L159.80 470.02 L162.14 471.10 L165.64 471.10 L167.97 470.02 L170.31 467.85" fill="none" stroke="#444" stroke-width="1.3" stroke-linecap="round" stroke-linejoin="round"/>
<text class="t" x="155.8" y="471.1" font-size="28">c</text>
<path d="M170.41 221.22 L170.41 244.00 M170.41 232.06 L168.07 229.90 L165.74 228.81 L162.24 228.81 L159.90 229.90 L157.57 232.06 L156.40 235.32 L156.40 237.49 L157.57 240.75 L159.90 242.91 L162.24 244.00 L165.74 244.00 L168.07 242.91 L170.41 240.75" fill="none" stroke="#444" stroke-width="1.3" stroke-linecap="round" stroke-linejoin="round"/>
<text class="t" x="155.9" y="244.0" font-size="28">d</text>
</svg></body></html>
